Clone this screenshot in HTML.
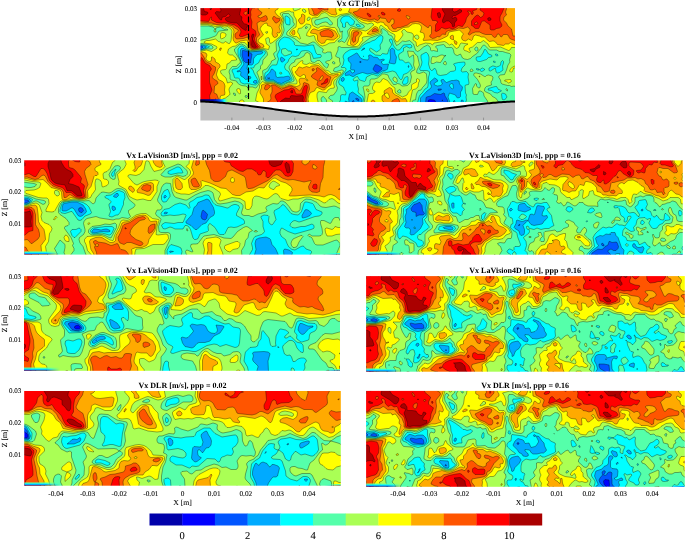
<!DOCTYPE html>
<html><head><meta charset="utf-8"><title>Vx comparison</title>
<style>html,body{margin:0;padding:0;background:#fff;width:685px;height:540px;overflow:hidden}
svg{display:block}</style></head><body>
<svg width="685" height="540" viewBox="0 0 685 540" font-family="'Liberation Serif','Times New Roman',serif" fill="#000" text-rendering="geometricPrecision">
<mask id="cGT" maskUnits="userSpaceOnUse" x="0" y="0" width="685" height="540"><rect x="200.4" y="8.1" width="314.6" height="94.1" fill="#fff"/></mask>
<g mask="url(#cGT)">
<rect x="200.4" y="8.1" width="314.6" height="94.1" fill="#0000FF"/>
<g transform="scale(0.5)" stroke="#000" stroke-width="1" stroke-opacity=".7" fill-rule="evenodd">
<path fill="#0055FF" d="M397 12l636 0 0 196-165 0 3-6-3-2-7-1-4 1-2 8-458 0 0-111 3-1-3 0z"/>
<path fill="#00AAFF" d="M397 12l636 0 0 196-136 0-3-10-4-6-1-5-2-1-6 3-12-2-8 5-8 2-1 2-1 12-133 0-1-3-2 3-8 0 1-6-1-1-2 1-1 6-307 0 0-109 4-1 5-4-3-2-6 1zM485 101l-1 9 3 11 4 4 10 1 3-18-12-6-5-1zM535 156l2 1 3-1zM713 196l-2 2 6 4 1-2-1-2zM721 122l-2 2 2 2 1-2zM751 129l-2 3-3 6 1 2 4 4 4 1 2-1 7-6-1-3-8-5zM877 178l-1 0 0 2 1 1 5-1 1-2zM884 200l1 0 0 2z"/>
<path fill="#00FFFF" d="M397 12l636 0 0 196-132 0-5-14 3-8 12 4 2 4 2 2 4-1 2-2 0-9 3-4 1-6-6-6-1-6-5-2-6 1-4 0-10 4-2-1-4-5-2 0-3 1 0 2 3 6-4 3-6 1-6-2-1-2 1-2 7-4-3-4-4-2-8 7-1 3 3 6-1 4-8 6-13 14 0 8 2 4-121 0 2-8-2-4-17-12-4 2-2 2-2 10 1 4-1 3-6-3-3 6-291 0 0-108 6-1 10-5-2-2-6-1-8 0zM483 97l-2 3-1 10 8 18-9 13-5 1 1 2 4-1 2 0 1 1-1 6 1 2 5 3 4 4 10-2 1-3-5-2-2-2 0-2 4-4-1-2-4-4 1-8 8 0 2-1 2-3 0-8 2-4 6-5 8-1 2-2 1-2-7-2-18 2-14-7zM543 138l-4 8-4 3-4 5 0 4 2 2 14 0 8 5 8 2 8-4 8-3 2-2-2-4-2-2-10 2-4 0-8 1-2-1-1-2-1-8-6-6zM563 114l-2 2 0 4 2 4 2 0 5-4-1-2zM593 98l0 2 2-1 0-1zM685 155l-3 3 1 4 2 1 2-1 2-4-2-3zM713 106l-17 10 1 6 4 4 1 2-1 10 2 2 6 0 0 4-4 2-3-2-1-3-2 0-8 5-1 4 1 1 8-1 6 3 2 0 6-4 12-4 10 3 10-2 10 2 10-6 8-2 2-2 2-10-10 1-4-3 0-3 6-3-2-2-8 2-4-5-8-1-6-4-3 0-1 2 1 4-2 4-9-1-6-3-6-9zM727 96l-4 5 6-3 0-2zM783 97l-3 3 1 16-3 10 11 2 2-2 2-12-3-6-1-8-2-2-2-2zM817 131l-1 1 1 3 1-1zM907 202l0 3 2 1 1-4-1-1zM923 200l-1 4 1 2 2 0 2-4-2-2zM509 161l-3 3 2 2 3 1 2-1 1-2-1-3zM901 168l2-1 3 1 1 8-2 2-2-1-4-5 0-2z"/>
<path fill="#55FFAA" d="M397 12l636 0 0 196-103 0 3-8-1-6 1-4-2-4-1-14 1-2 6-1 1-3-2-12 1-6-1-2-3-3-8 1-3-2 2-6 6-6 0-4-1-2-12 1-8 2-2 1 4 6 0 6-2 2-8 1-8 6-12 2-4-1-3-2-1-6-2-4-2-2-3 4-3 1-3-3-3-10 1-8 0-6-2-6-3-3-2 0-9 5 0 6 2 8-1 6-4 8 2 3 12 0 4 1 2 2 0 4-2 6-1 18-1 3-5 3-5 7-5 5-2 4-2 8-2 6-109 0 2-10-1-4-1-2-6-4-3-4 1-6-2-8 1-8-1-2-6 2-3-2 1-2 4-4 4-1 4 7 10 3 2-2 2-7 10-5 4 0 8 3 12-8 6 1 12-3 6 2 8 13 2 2 2 0 2-3 2-7 8-3 10-10-4-8-4-4-6 2-6-6-6 0-2-8 1-4 7-4 2-2 0-6 2-1 4-2 6 3 4-1 1-3-3-3-14 1-8 10-4 0-4-3-5-7-1-8-2-4-2 0-2 1 0 3 4 6 0 2-5 8-3 10-4 0-6-1-4 4-10-1-11-8-1-4 2-2 12 8 4-2 4-4-1-8 4-6 2-8-1-4-2-1-4 1-3 2-6 6-7 2-2 2-7 2-7 4-8 8-6 1-10 0-4 1-8 5-4 5-1 4 2 6-2 10-4 4 1 1 6 0 2 1 1 2 0 2-7 10-5 6-3 8 2 5 8 5 2 6 3 4 0 2-1 4-6-1-3 1-1 2 0 8-4 8-280 0 0-107 6-1 16-6-2-2-4-1-8-2-8 0zM481 92l-5 6 0 10 1 4 6 12 0 4-7 8-3 1-6 1-2 1-1 3 3 6 2 7 2 1 6 0 2 2 2 6 2 2 6 2 8-1 6 2 8 1 5-4 1-4-9-16-2-6-5-4 6 0 3-6 7-4 4-8 9-10 1-4-2-2-4-1-24 2-16-11zM565 76l-5 4-3 6 0 4 3 8-6 12 3 8-3 10-1 2-8 0-5 4-4 8-6 4-1 8 0 4 2 3 4 1 12 0 8 5 8 2 18-7 3-2 0-2-7-15-6-4-2-5 2-6 5-4 2-6 5-5 2-1 6 1 6-2 6-9 8-1 6 1 6 4 4 11 14-2 2-3-2-3-6 0-3-3-5-16-4 0-14 2-18-1-3-3 1-2-1-2-5-4-4-4-10-2zM573 32l-2 0-1 2 1 12 2 3 6 1 1-2 0-10-3-4zM691 32l-6 2-3 4-1 4 4 6 0 6 4 1 2-1 0-8 2-2 2 0 4 6 2 1 4-1 3-2 1-6-9-8-3-2zM713 48l-1 2 3 3 4 1 2-2-4-3zM969 99l-3 7-5 7-8 1-1 4 2 4 3 1 4 0 12-4 4-4 6-1 1-2-1-2-6-2-5-8-1-1zM989 122l-2 0 0 2 2 2 2-2zM991 108l0 2 2 2 2 0 1-2-2-2zM1005 121l-3 3-1 6-2 2-6 2-6-2-2 0-7 4 0 4 1 2 2 0 8-5 2 0 1 7 3 2 4-1 6-4 1-1-1-8 2-6 0-3zM811 154l-2 2-4 8 0 2 2 3 6-1 3-4 0-10-1-1zM953 137l-1 1 2 2 4 0 0-2zM965 136l-4 2-2 2 4 3 3-1 3-2 0-2zM987 174l-10 3-1 3 7 1 6 4 6 1 8-4-2-2-4-1-4-6-2 0zM1005 186l-2 2 1 8 1 3 4 1 5-6-3-6zM564 98l7-1 6 5 4 0 2 2 0 3-2 1-8 3-4 1-6-6 0-6zM726 112l1 0 0 1zM561 144l2 1 1 1-1 2-3 0-1-2zM914 208l1-2 1 2z"/>
<path fill="#AAFF55" d="M397 12l636 0 0 165-4-5-6 1-4-2-4 0-11-3-2-2-1-6-4-6 1-2 3-2 8-1 4-9 3-10 4-6-1-4 3-10-3-3-8-2-6-2-6 0-6-3-14 0-10-10-2 0-2 2-4 6-4 4-2 4-10 7-4 4-6 2-6-1-4-2-4-8-6 3-4-1-3-4-1-6-2-4-2-1-10 0-2-1-2-4-2-1-12 2-3 1-1 2 4 4 0 5-8-2-4 1-2-2 0-4-2-3-4-3-8 4-8 7-4 2-2-1-2-2-4-12-8-7-8 2-6-1-8 7-4 2-9-19-7-3-2-5-2-2-8-5-2 1 1 8-1 2-23 8-16 12-4 6-3 2-4 0-14-1-16 0-4-2-3 1 0 6-5 12 2 2 6 2 0 6 2 6-4 5-8 3-1 2-1 4 2 1 4 0 10-3 2 0 2 2-3 6-9 10-2 4-1 6 3 8-2 6-6 8-6 1-3 3-1 2 2 2 4 2 2 2 0 3-3 3-9 0 0-8-6-7-3 1-2 4 1 4 3 6-176 0-3-1-3 1-67 0 0-106 16-4 10 0 3-2 0-2-3-3-6-2-12-2-8 0 0-5 6-2 14-3 14-5 2-2 3-6 3-2 17-2-1-1-2-1-4 1-8-5-6 1-3 1-1 2-2-1-3-3-9-2-20 0zM483 88l-4 1-10 9 0 4 10 17 2 5-1 2-3 2-4 5-8 0-2 2-4 5-1 4 2 6 0 8 3 2 10 2 2 4 4 3 4 2 8 1 4 2 0 2 3-2 7 0 6 2 2-1 6-9 1-4-4-12-2-4 0-2 7-6 0-6 4-4 1-8 9-10-1-6-3-4-4-1-26 2-5-3-5-6zM567 27l-2 1 0 2 3 10-2 10 2 8 0 4-4 10-9 8-3 4 1 18-2 2-3 2-1 2 4 10-8 4-1 4-9 12-6 2-2 2 2 16 2 4 6 2 12 0 16 7 4-1 8-4 9-2 4-2 0-4-10-22 1-4 4-5 6-3 1-4 3-2 6-1 9-5 3-6 4-1 5 3 2 14 2 2 5 1 6-4 4 0 5 5 4 6 5 4 2-1 2-5 0-2-5-2-1-2 2-2 6-1 4-3 1-2-2-12-7 0-4 2-4 0-2-2 0-2 2-2-1-2-9-6-8-8-4 0-10 5-14-3-12-9-15-7-1-2 1-4 9-9 4-3 2-4-3-4 0-6-1-2-8-9zM611 54l0 3 2 0 2-3-2-1zM647 36l-6 2-10 2-2 4 2 5 4 1 10-5 6-1 4 1 2 3 3 2 3 0 2-2 0-2-10-11-4 0zM667 123l-2 1 0 2 2 2 2 0 1-2-1-2zM689 30l-8 2-6 6 0 14 4 6 1 6 3 0 1-2 1 0-1 4 0 10-1 2-7 4 1 2 2 0 4-2 6 3 2-2 6-11-2-10 6-7 6-2 10 4 4 0 5-1 3-2-2-4-8-4-5-6-13-10-4-1zM953 94l-2 1-2 3 2 3 2 1 3-2 0-2-1-3zM469 186l-2 0 0 2 2 3 2 0 0-3zM491 191l-1 3 3 1 1-1 1-2-2-1zM428 60l1-1 2-1 1 6-3 0-1-2zM815 102l12 1 3 5 5 4 4 18-5 10-1 4 1 2 5 1 8-3 4 2 2 2 0 2 1 10-1 6-5 6-3 3-3 5-5 1-2 3-2 4-2 12-4 0-2 2-2 6-95 0 2-14-2-12-2-8 3-2 8 0 3-4 0-8 3-2 6 0 6-2 10-8 4 0 7 2 2 6 9 13 4 0 4-2 4 1 5 4 3 0 8-1 5-5 3-12-2-8 3-4 5-2 1-2-3-8 1-8-1-12-2 0-4 4-2 1-2-3zM797 180l-2 2 0 2 3 2 3 0 1-2-1-4-2-1zM882 110l4 0 3 2 2-2 0 2-2 0-2 4-6 9-2 0-6-1-6 3-4 0-1-3 1-8 2-3 8 1zM890 122l2 2 1 4-2 2-4-2 0-2zM940 140l3-2 2 1 1 1 0 2-3 1-2 0zM949 146l4 0 8 2 8 5 2 0 2-2 4-1 7 2 2 2-1 6-3 4 1 6-10 3-3 3-1 4 0 2 3 2 9 4 4 5 6 3 5 6 1 6-21 0-1-6-7-10-1-6-2-2-4-2-3 0-3 7-6 0-3-1-1-11 3-5 2-4 1-1 2 1 0 4 4 4 2 0 2-4-1-4-5-9-8-9zM786 156l3-2 4 2 2 6-2 3-4-2-3-3zM1012 178l1-1 2 2 0 3-3-2zM1032 190l1-1 0 7-2-2zM1027 208l2-1 4 0 0 1z"/>
<path fill="#FFFF00" d="M397 12l188 0 2 8 2 2 11-4 1-2-1-4 433 0 0 83-10 0-3 5-3 1-16-7-20 1-2-1-3-6-9-7-6 4-6 0-10 9-6 2-1 2 3 6-2 1-6-3-4-1-2-3 2-6 7-4-13-2-2 1-4 8-4 2-2-1-6-7-2-1-4 2-6-5-4-2-21 3-3 4-4-3-10-1-12 4-4 3-2-1-1-8-6-4 1-10-3-4-10-2-5-5-2 0-3 3-1 2 2 2 1 4-4 6-5 6-2 2-2 0-4-6 1-6-1-3-8-4-18-14-2 0-2 3 2 10-1 2-19 6-15 2-2 2 2 4-5 6-4 6-4 1-8 0-10-3-1-2 6-14-1-10 3-6 3-1 4 0 22 5 6-3 8-7 2-2 0-2-4-2-8 2-12-4-20-16-4-2-18 3-8 4-4 1-10-2-6-6-4-1-6 2-6 7-2 1-11 1-1 6 2 8 2 2 8 4 2 0 4-3 8-1 14 3 6 0 4 3 3 8 4 6-1 3-6 5-4 5-10 1-7 4-7 2-6-2-5-6-3-4-2-8-2-1-8 2-6-2 1-5 8-12-1-4-2-1-6-1-10 8-6 1-2 7 3 4 3 9-2 1-6-5-6 0-6-3-2-4 4-6 2-2 7-4 1-10-1-6-4-6-1-8-4 0-4-2-4 0-12 3-2 1-1 2 5 8 1 4-4 12 2 8 0 4-3 8-16 13-4 2-2-3 0-6-2-3-4 1-2 2 2 10 6 4-1 4-1 3-10-2-18 3-8 0-4-4-2-6-2-2-4-3-4 0-4 0-10 7-6 1-8 5-2 8 4 4 6 0 7 6 1 2 0 2-10 1-4 5-5 2-1 9-2 2-8 1-2 2 0 2 2 4 9 8 3 10 6-2 4 2 0 2-5 6-2 4 0 2 2 8-1 2-8 6-6 2-2 6-3 4-43 0 0-105 8-1 8-2 10 3 10-6 1-3-1-1-10-5-14-2-1-2 5-3 6 0 12-3 6 5 4 1 2 2 4 0 4-3 6 4 2 0 3-5 2-20-2-4-7-5-6 1-8-2-10 1-16-4-18 0zM531 64l2 3 2-1 0-3zM607 18l-2 1 0 3 4 3 3-1-1-4zM617 34l-3 4 1 3 2 0 2-1 2-4-2-2zM833 70l-4 2 0 2 2 3 4 2 3-3-1-4-2-2zM442 66l3-1 4 1 3 2 0 2-1 3-2 2-6 3-2-2 0-8zM602 122l3-1 1 1-1 4 2 2 6 1 6-3 10 3 8-2 14 13 6 2 6 5 4 0 12-2 2 0 1 1-2 4-9 8-3 4-1 4 2 8-1 2-7 1-5 3-3 5-2 0-12-2-3 1-2 4 0 6 3 14-11 0-1-3-2 3-101 0-2-2-9-5 3-15 5-10 0-6 6-7 4 2 18 1 16 7 5-1 11-4 14 0 1-2 0-4-8-14-3-10 2-3 2-2 4 0 8-9zM1030 132l3-1 0 6-4-1-2 0-2 7-2 1-2 0-2-2 2-4 4-4zM958 152l1 0 1 2-1 0zM522 154l1-2 1 6-1 2zM1033 154l0 4-1-2zM765 158l2-1 8 4 8 10 7 5 0 6 1 4 14 8 9-4 3-6 6-6 0-8 2-2 8-4 0-6 2-1 2 1 2 2 0 2-2 4-1 8-5 4-4 1-2 1-6 28-86 0 4-20 2-1 6 0 5-3 0-2-3-1-2-3 0-4 4-8 4-2 6 1 2-1zM1010 160l11-1 2 3-1 2-5 2-4-3-4-1zM474 178l3-1 3 1 1 4 0 5-2 1-4-4-2-4zM733 178l2 0 2 1 1 3-1 2-3-2zM482 200l3 0 3 2 0 2-1 4-7 0-1-4 0-2z"/>
<path fill="#FFAA00" d="M397 12l138 0 2 5 2 0 2-3 0-2 17 0-2 6-5 3-1 3 4 6 7 5 2 3 0 4-5 12 3 8-1 2-1 2-2 0-2-1-1 1 0 2 2 2-3 4-4 1-2-1-3-6 1-8-2-5-2-2-6-2-1-5-5 1-6 5-3 6 7 12-9 8-2 4 3 4 6 2 2 2 1 4-12 4-13 1-4-3-4-14-2-2-12 2-8 4-2 0-4-5-1-5 2-14-1-2-2-4-7-4-5-1-6 0-14-1-20-3-16 0zM616 12l55 0 1 12 2 4-3 2-8-1-10-6-4-1-6 2-8 7-4 1-6-1-6-3zM700 12l11 0 2 1 1-1 319 0 0 6-3 2 3 1 0 69-7-2-5-3-4 3-6 0-4 3-12-2-4-5-3-2-3 0-6 1-2-1-8-8-6 0-4-2-8-2-4 2-2 7-2 2-6-3-6 4-4-1-2-1-2-4 1-4 3-4-8-8-21 4-1 2-1 4-1 2-8 4-4 2-8 3-14-1-14 1-1-1 3-6-1-6-1-2-7-2 2-4 1-6-2-4-3-2-7-1-6 1-8 6-10 1-14 8-8 0-7-5-3-6-5-2-3-5-6-1-6 2-8-4-8 1-12-2-14-7-10-8-6-2 3-8zM678 18l3-1 2 1 0 2-2 2-2-1-1-1zM603 30l0-1 2-1 4 2 1 2-1 12-4 4-4 0-4-6 0-2 1-2 5-4zM748 54l3-1 4 2 3 7 0 2-17 5-6-1 0-2zM626 58l3 0 8 3 12-4 10 0 11 5 6 10-1 2-8 6-6 0-6-1-3 1-3 6-6 1-7-5-1-4 0-6-2-4-12-2 1-4zM706 60l5 0 9 2 3 2 1 2-1 2-5 6-2 10-5 5-4 2-4-1-2-2 0-2 2-22zM585 62l2-2 2 1 1 5-1 3-2 1-3-2-1-2zM901 72l2-1 2-1 2 2 0 8-5-2-2-2zM908 82l1-1 2 1 3 2 0 2-1 3-3-1zM440 96l3 0-2 5-2-1zM397 104l6 0 9 2 2 4-2 6 0 2 3 4 4 1 3-1 1-2 0-6 2 0 5 4 1 6 6 3 3 3 0 4-4 4-3 10 0 2 4 9 8 4 3 3 2 6-1 8 1 6-1 4-6 1-2 1-2 10-4 6-38 0zM623 132l14-1 22 18 8 1 8-2 1 0 1 2-2 2-6 3-4 5-2 4-1 6-7 4-6 6-4 0-10-5-3 1-3 6-8 3-3 5-2 8 2 10-91 0 0-10-3-6-4-6 0-4 3-6 0-6 8-3 12 0 6 1 14 7 6-1 10-4 14 3 3-1 4-2 0-2-2-6 1-4 2-2 8 1 2-1 0-4-1-2-3-1-6 4-2 0-5-3-4-6 1-1 2-1 4-7 2-1 6 2 8-3 6 2zM613 158l-1 0 0 2 3 2 1-2zM777 176l2-1 4 2 2 3 0 4 1 2 5 4 8 4 4 4 8-1 3 5 0 2-2 4-40 0-5-4-3-4 0-8 5-4-1-4 1-3zM773 186l-4 2 0 2 5 6 3 1 1-1 1-2-2-6-2-2zM745 200l2 0 2 2 3 6-11 0 2-6z"/>
<path fill="#FF5500" d="M397 12l121 0-2 6 1 2 6 4 1 2-3 4-5 2 0 2 5 2 10-5 2 1 2 6-1 2-3 2-4 1-6-1-7 4 2 16 3 6 0 2-6 6 0 6 1 4 6 6 1 2-2 2-8 2-6 0-4-2-1-2-3-17-2-3-8 3-14 1-3-4 0-6 7-6-2-3-4-2-6-5-12-4-20 1-10-3-26-2zM624 12l32 0 0 8-9-1-4 2-8 7-4 1-2 0-2-1 1-2-5-10zM722 14l1-2 290 0 0 6-2 6 2 6-5 4-1 6 6 6 3 6 7 6 3 14 3 0 4-2 0 12-12-4-2-2-3-6-3-1-6 0-4 5-2-1-3-5-3 0-3 6-3 1-2-1-4-5-12 0-6-2-6-3-8 0-6 2-6 4-3-2 4-6 0-4-5-4-8 3-10-1-6 3-14 2-5 3-1 5-6-1-6 6-4-1-5 3-5 1-5-3-1-2 4-5 0-3 0-10-2-3-2 0-2 4-2 0-14-10-6-2-2 0-12 2-6 5-14 5-6 0-4 3-4 0-4-6 0-2 4-2 1-2 0-6-1-2-4 0-4 7-2 0-2-1-3-6-1-1-10-1-2-5-2 0-1 1 1 2 3 2-1 1 0 1-4 3-6-3-10 2-6-2-6-1-13-5-7-6 0-2 8-2zM813 31l-1 1 3 5 2 1 2-1 1-3-1-1zM1020 12l8 0-3 3-3-1zM546 34l1-1 2 0 4 3 6 1 1 3-1 2-6 4-2 0-6-8zM747 58l4-1 2 1 2 2 0 2-10 2-1-2zM650 60l7-1 6 3 3 4 1 6-4 3-10-2-8 0-2 0-3-5 0-2 1-2zM708 64l5-1 4 1 1 2-1 2-6 6 0 8-2 2-2 1-2-3-1-4 2-4 0-6zM397 106l2 0 4 1 5 7 2 6 3 4 8 3 4 4 6 3 0 6-3 8-4 6 3 4 7 4 2 4-1 2-6 4 0 2-1 12 5 2 1 2 3 8-1 4-4 4-1 2-34 0zM633 136l2-1 2 1 6 4 11 10 8 4-4 12-9 10-4-1-8-3-3-2 0-2 2-6-9-5-4-3 0-2 1-2 10-8-2-4zM643 152l-4 6-1 2 1 2 4-2 3-4 0-4-1-1zM624 138l3-1 2 1-2 4-2 0zM607 166l2-1 8 3 1 2 1 8-4 12-2 8 2 10-83 0 1-3 6-3 3-4-1-8 3-6 0-8-1-6 6 0 14 8 16-6 4 0 9 4 7 6 2-2 5-8zM531 170l4-1 4 1 2 2-1 2-5 5-4 1-2-2 0-2zM791 198l4-1 2 1 2 4 1 6-19 0 4-7z"/>
<path fill="#FF0000" d="M397 12l115 0-2 4-5 0-2 2-2 6 1 6-1 4 3 10-1 8 0 4 2 2 4 2 2 2 1 4 0 4-3 6 1 6 7 12-3 2-5 1-6-2-2-5-2-18-4-3-10 4-4 0-2-1 0-2 3-6-1-4-4-5-8-5-20-5-6 1-10-1-10-5 0-6-2 1-2 5-2 3-13-1-7-2zM489 24l-2 2 1 2 3 2 2 0 1-2 1-4-2-2zM634 12l15 0-1 4-3 0-2 2-4 0-4-2zM729 12l7 0-1 4-2 1-2-1zM831 12l6 0-4 1-2 0zM866 14l3-2 87 0-3 7-8 3 2 4-2 3-3-1 0-4-4-2-3 0 4 6-6 8-2 8-6 9-2 0-6-2-7 5-5 2-6-2-8 2-8-3-4 5-6 3-3-1 1-4 0-8 2-3 3-3-5-3-6 0-3-7 2-16zM964 12l44 0 0 4-4 10-3 5-1 3 0 8 4 8-1 3-4 3-6 1-5 3-6 0-2-2 0-6 0-2-11-8-4 0-2 2-4 10-2 3-6 0-2-1-2-3-4-2 0-9 8-10 4-2 2 1 4 4 4-2 2-3 1-4-1-1-7-5 0-2zM953 44l-4 2 0 3 2 0 4-1 1-2zM796 18l3-1 2 2 0 3-2 1-4-1 0-2zM764 24l5 2 1 2 0 2-5 0-3-4zM735 26l6 4 1 2-1 2-2 0-2-2-3-4zM402 116l1-1 2 2 5 9 9 5 4 7-4 6 0 6 0 14 5 16-5 12 1 6-6 6 0 4-9 0 0-2-4-4-1-8-3-3 0-66 4-3zM652 158l3-1 1 1-1 6-2 2-10 3-1-1 5-2zM609 172l2-1 2-1 2 4-5 26 2 8-57 0 0-5-5-9 1-4 2-2 16-8 8-1 6-3 5 2 4 10 9 0 3-2 2-8zM430 198l2 0-1 2zM547 204l2 2 0 2-4 0 0-2z"/>
<path fill="#AA0000" d="M397 12l5 0 4 2 3 9 6 1 1 2-1 2-4 2-6 0-8-4zM438 12l43 0 0 8-2 10 5 4-1 6 4 6 2 2 4 0 2 2 0 2-3 6 1 2-2 1-8-5-9-10-7 0-10-2-4-2-3-4 1-1 2-2 5-1 2-2 0-2-3-2-2 1-4 4-6 1-1 2-1 4-2 0-2-2-9-12 3-3 8 1 1-4zM486 12l3 0-2 1zM884 12l29 0-8 5 0 4 2 2 2 1 4-1 6-4 4 1 0 4-12 7-4 0-3 3 1 3 6-3 2 2 1 4-5 6 0 6-2 2-2-1-1-5-6-6-5 0-6 4-2-2 0-4 5-12-5-8zM420 16l1-1 2 1 0 2-2 2zM875 26l4-1 2 3 0 6-2 2-2-1-2-5zM976 36l3-1 2 1 1 2 0 2-3 1-2 0-2-3zM505 68l2 0 1 2-3 8 7 14 1 2-2 1-6-1-2-4 1-12-1-6zM582 182l1-1 2 0 0 5-2 0-2-2zM581 192l2-1 10 1 12-1 2 3-1 6 2 8-48 0 0-4 3-3 8-5 8 1 1-1z"/>
</g>
</g>
<defs><linearGradient id="nw" x1="0" x2="1" y1="0" y2="0"><stop offset="0" stop-color="#00006A"/><stop offset=".45" stop-color="#0000AA"/><stop offset=".7" stop-color="#0055FF"/><stop offset=".85" stop-color="#00FFFF"/><stop offset="1" stop-color="#55FFAA" stop-opacity="0"/></linearGradient></defs>
<rect x="200.4" y="99.2" width="28" height="3.0" fill="url(#nw)"/>
<polygon fill="#fff" points="200.4,102.2 200.4,101.40 202.4,101.48 204.4,101.58 206.3,101.68 208.3,101.79 210.3,101.91 212.3,102.04 214.3,102.17 216.2,102.32 218.2,102.47 220.2,102.64 222.2,102.81 224.1,102.99 226.1,103.17 228.1,103.36 230.1,103.56 232.1,103.77 234.0,103.98 236.0,104.20 238.0,104.43 240.0,104.66 242.0,104.89 243.9,105.14 245.9,105.38 247.9,105.63 249.9,105.89 251.8,106.14 253.8,106.41 255.8,106.67 257.8,106.94 259.8,107.21 261.7,107.48 263.7,107.75 265.7,108.03 267.7,108.30 269.7,108.58 271.6,108.86 273.6,109.13 275.6,109.41 277.6,109.69 279.5,109.96 281.5,110.23 283.5,110.50 285.5,110.77 287.5,111.04 289.4,111.30 291.4,111.56 293.4,111.82 295.4,112.07 297.4,112.32 299.3,112.56 301.3,112.80 303.3,113.04 305.3,113.26 307.2,113.49 309.2,113.70 311.2,113.91 313.2,114.12 315.2,114.31 317.1,114.50 319.1,114.69 321.1,114.86 323.1,115.03 325.1,115.19 327.0,115.34 329.0,115.48 331.0,115.61 333.0,115.74 334.9,115.85 336.9,115.96 338.9,116.06 340.9,116.14 342.9,116.22 344.8,116.29 346.8,116.35 348.8,116.40 350.8,116.44 352.8,116.47 354.7,116.49 356.7,116.50 358.7,116.50 360.7,116.49 362.6,116.47 364.6,116.44 366.6,116.40 368.6,116.35 370.6,116.29 372.5,116.22 374.5,116.14 376.5,116.06 378.5,115.96 380.5,115.85 382.4,115.74 384.4,115.61 386.4,115.48 388.4,115.34 390.3,115.19 392.3,115.03 394.3,114.86 396.3,114.69 398.3,114.50 400.2,114.31 402.2,114.12 404.2,113.91 406.2,113.70 408.2,113.49 410.1,113.26 412.1,113.04 414.1,112.80 416.1,112.56 418.0,112.32 420.0,112.07 422.0,111.82 424.0,111.56 426.0,111.30 427.9,111.04 429.9,110.77 431.9,110.50 433.9,110.23 435.9,109.96 437.8,109.69 439.8,109.41 441.8,109.13 443.8,108.86 445.7,108.58 447.7,108.30 449.7,108.03 451.7,107.75 453.7,107.48 455.6,107.21 457.6,106.94 459.6,106.67 461.6,106.41 463.6,106.14 465.5,105.89 467.5,105.63 469.5,105.38 471.5,105.14 473.4,104.89 475.4,104.66 477.4,104.43 479.4,104.20 481.4,103.98 483.3,103.77 485.3,103.56 487.3,103.36 489.3,103.17 491.3,102.99 493.2,102.81 495.2,102.64 497.2,102.47 499.2,102.32 501.1,102.17 503.1,102.04 505.1,101.91 507.1,101.79 509.1,101.68 511.0,101.58 513.0,101.48 515.0,101.40 515.0,102.2"/>
<polygon fill="#BFBFBF" points="200.4,101.40 202.4,101.48 204.4,101.58 206.3,101.68 208.3,101.79 210.3,101.91 212.3,102.04 214.3,102.17 216.2,102.32 218.2,102.47 220.2,102.64 222.2,102.81 224.1,102.99 226.1,103.17 228.1,103.36 230.1,103.56 232.1,103.77 234.0,103.98 236.0,104.20 238.0,104.43 240.0,104.66 242.0,104.89 243.9,105.14 245.9,105.38 247.9,105.63 249.9,105.89 251.8,106.14 253.8,106.41 255.8,106.67 257.8,106.94 259.8,107.21 261.7,107.48 263.7,107.75 265.7,108.03 267.7,108.30 269.7,108.58 271.6,108.86 273.6,109.13 275.6,109.41 277.6,109.69 279.5,109.96 281.5,110.23 283.5,110.50 285.5,110.77 287.5,111.04 289.4,111.30 291.4,111.56 293.4,111.82 295.4,112.07 297.4,112.32 299.3,112.56 301.3,112.80 303.3,113.04 305.3,113.26 307.2,113.49 309.2,113.70 311.2,113.91 313.2,114.12 315.2,114.31 317.1,114.50 319.1,114.69 321.1,114.86 323.1,115.03 325.1,115.19 327.0,115.34 329.0,115.48 331.0,115.61 333.0,115.74 334.9,115.85 336.9,115.96 338.9,116.06 340.9,116.14 342.9,116.22 344.8,116.29 346.8,116.35 348.8,116.40 350.8,116.44 352.8,116.47 354.7,116.49 356.7,116.50 358.7,116.50 360.7,116.49 362.6,116.47 364.6,116.44 366.6,116.40 368.6,116.35 370.6,116.29 372.5,116.22 374.5,116.14 376.5,116.06 378.5,115.96 380.5,115.85 382.4,115.74 384.4,115.61 386.4,115.48 388.4,115.34 390.3,115.19 392.3,115.03 394.3,114.86 396.3,114.69 398.3,114.50 400.2,114.31 402.2,114.12 404.2,113.91 406.2,113.70 408.2,113.49 410.1,113.26 412.1,113.04 414.1,112.80 416.1,112.56 418.0,112.32 420.0,112.07 422.0,111.82 424.0,111.56 426.0,111.30 427.9,111.04 429.9,110.77 431.9,110.50 433.9,110.23 435.9,109.96 437.8,109.69 439.8,109.41 441.8,109.13 443.8,108.86 445.7,108.58 447.7,108.30 449.7,108.03 451.7,107.75 453.7,107.48 455.6,107.21 457.6,106.94 459.6,106.67 461.6,106.41 463.6,106.14 465.5,105.89 467.5,105.63 469.5,105.38 471.5,105.14 473.4,104.89 475.4,104.66 477.4,104.43 479.4,104.20 481.4,103.98 483.3,103.77 485.3,103.56 487.3,103.36 489.3,103.17 491.3,102.99 493.2,102.81 495.2,102.64 497.2,102.47 499.2,102.32 501.1,102.17 503.1,102.04 505.1,101.91 507.1,101.79 509.1,101.68 511.0,101.58 513.0,101.48 515.0,101.40 515.0,120.4 200.4,120.4"/>
<polyline fill="none" stroke="#000" stroke-width="2" points="200.4,101.40 202.4,101.48 204.4,101.58 206.3,101.68 208.3,101.79 210.3,101.91 212.3,102.04 214.3,102.17 216.2,102.32 218.2,102.47 220.2,102.64 222.2,102.81 224.1,102.99 226.1,103.17 228.1,103.36 230.1,103.56 232.1,103.77 234.0,103.98 236.0,104.20 238.0,104.43 240.0,104.66 242.0,104.89 243.9,105.14 245.9,105.38 247.9,105.63 249.9,105.89 251.8,106.14 253.8,106.41 255.8,106.67 257.8,106.94 259.8,107.21 261.7,107.48 263.7,107.75 265.7,108.03 267.7,108.30 269.7,108.58 271.6,108.86 273.6,109.13 275.6,109.41 277.6,109.69 279.5,109.96 281.5,110.23 283.5,110.50 285.5,110.77 287.5,111.04 289.4,111.30 291.4,111.56 293.4,111.82 295.4,112.07 297.4,112.32 299.3,112.56 301.3,112.80 303.3,113.04 305.3,113.26 307.2,113.49 309.2,113.70 311.2,113.91 313.2,114.12 315.2,114.31 317.1,114.50 319.1,114.69 321.1,114.86 323.1,115.03 325.1,115.19 327.0,115.34 329.0,115.48 331.0,115.61 333.0,115.74 334.9,115.85 336.9,115.96 338.9,116.06 340.9,116.14 342.9,116.22 344.8,116.29 346.8,116.35 348.8,116.40 350.8,116.44 352.8,116.47 354.7,116.49 356.7,116.50 358.7,116.50 360.7,116.49 362.6,116.47 364.6,116.44 366.6,116.40 368.6,116.35 370.6,116.29 372.5,116.22 374.5,116.14 376.5,116.06 378.5,115.96 380.5,115.85 382.4,115.74 384.4,115.61 386.4,115.48 388.4,115.34 390.3,115.19 392.3,115.03 394.3,114.86 396.3,114.69 398.3,114.50 400.2,114.31 402.2,114.12 404.2,113.91 406.2,113.70 408.2,113.49 410.1,113.26 412.1,113.04 414.1,112.80 416.1,112.56 418.0,112.32 420.0,112.07 422.0,111.82 424.0,111.56 426.0,111.30 427.9,111.04 429.9,110.77 431.9,110.50 433.9,110.23 435.9,109.96 437.8,109.69 439.8,109.41 441.8,109.13 443.8,108.86 445.7,108.58 447.7,108.30 449.7,108.03 451.7,107.75 453.7,107.48 455.6,107.21 457.6,106.94 459.6,106.67 461.6,106.41 463.6,106.14 465.5,105.89 467.5,105.63 469.5,105.38 471.5,105.14 473.4,104.89 475.4,104.66 477.4,104.43 479.4,104.20 481.4,103.98 483.3,103.77 485.3,103.56 487.3,103.36 489.3,103.17 491.3,102.99 493.2,102.81 495.2,102.64 497.2,102.47 499.2,102.32 501.1,102.17 503.1,102.04 505.1,101.91 507.1,101.79 509.1,101.68 511.0,101.58 513.0,101.48 515.0,101.40"/>
<line x1="248.5" y1="8.1" x2="248.5" y2="101.6" stroke="#000" stroke-width="1.2" stroke-dasharray="6 2.5"/>
<line x1="231.86" y1="117.6" x2="231.86" y2="120.4" stroke="#777" stroke-width=".6"/>
<line x1="263.32" y1="117.6" x2="263.32" y2="120.4" stroke="#777" stroke-width=".6"/>
<line x1="294.78" y1="117.6" x2="294.78" y2="120.4" stroke="#777" stroke-width=".6"/>
<line x1="326.24" y1="117.6" x2="326.24" y2="120.4" stroke="#777" stroke-width=".6"/>
<line x1="357.70" y1="117.6" x2="357.70" y2="120.4" stroke="#777" stroke-width=".6"/>
<line x1="389.16" y1="117.6" x2="389.16" y2="120.4" stroke="#777" stroke-width=".6"/>
<line x1="420.62" y1="117.6" x2="420.62" y2="120.4" stroke="#777" stroke-width=".6"/>
<line x1="452.08" y1="117.6" x2="452.08" y2="120.4" stroke="#777" stroke-width=".6"/>
<line x1="483.54" y1="117.6" x2="483.54" y2="120.4" stroke="#777" stroke-width=".6"/>
<text x="357.70" y="5.80" font-size="8.00" text-anchor="middle" font-weight="bold">Vx GT [m/s]</text>
<text x="197.00" y="10.50" font-size="7.00" text-anchor="end" stroke="#000" stroke-width="0.07">0.03</text>
<text x="197.00" y="41.87" font-size="7.00" text-anchor="end" stroke="#000" stroke-width="0.07">0.02</text>
<text x="197.00" y="73.24" font-size="7.00" text-anchor="end" stroke="#000" stroke-width="0.07">0.01</text>
<text x="197.00" y="104.61" font-size="7.00" text-anchor="end" stroke="#000" stroke-width="0.07">0</text>
<text x="179.60" y="64.30" font-size="7.70" text-anchor="middle" stroke="#000" stroke-width="0.07" transform="rotate(-90 179.6 64.3)" dominant-baseline="middle">Z [m]</text>
<text x="231.86" y="130.10" font-size="7.20" text-anchor="middle" stroke="#000" stroke-width="0.07">-0.04</text>
<text x="263.32" y="130.10" font-size="7.20" text-anchor="middle" stroke="#000" stroke-width="0.07">-0.03</text>
<text x="294.78" y="130.10" font-size="7.20" text-anchor="middle" stroke="#000" stroke-width="0.07">-0.02</text>
<text x="326.24" y="130.10" font-size="7.20" text-anchor="middle" stroke="#000" stroke-width="0.07">-0.01</text>
<text x="357.70" y="130.10" font-size="7.20" text-anchor="middle" stroke="#000" stroke-width="0.07">0</text>
<text x="389.16" y="130.10" font-size="7.20" text-anchor="middle" stroke="#000" stroke-width="0.07">0.01</text>
<text x="420.62" y="130.10" font-size="7.20" text-anchor="middle" stroke="#000" stroke-width="0.07">0.02</text>
<text x="452.08" y="130.10" font-size="7.20" text-anchor="middle" stroke="#000" stroke-width="0.07">0.03</text>
<text x="483.54" y="130.10" font-size="7.20" text-anchor="middle" stroke="#000" stroke-width="0.07">0.04</text>
<text x="357.70" y="139.00" font-size="7.70" text-anchor="middle" stroke="#000" stroke-width="0.07">X [m]</text>
<defs><linearGradient id="bs" x1="0" x2="0" y1="0" y2="1"><stop offset="0" stop-color="#AAFF55" stop-opacity="0"/><stop offset=".3" stop-color="#55FFAA" stop-opacity=".7"/><stop offset=".55" stop-color="#00FFFF"/><stop offset=".72" stop-color="#00AAFF"/><stop offset=".86" stop-color="#0055FF"/><stop offset="1" stop-color="#00008A"/></linearGradient><linearGradient id="fl" x1="0" x2="1"><stop offset="0" stop-color="#fff"/><stop offset=".6" stop-color="#fff"/><stop offset="1" stop-color="#fff" stop-opacity="0"/></linearGradient><linearGradient id="fr" x1="0" x2="1"><stop offset="0" stop-color="#fff" stop-opacity="0"/><stop offset="1" stop-color="#fff"/></linearGradient><mask id="fadeL" maskContentUnits="objectBoundingBox"><rect width="1" height="1" fill="url(#fl)"/></mask><mask id="fadeR" maskContentUnits="objectBoundingBox"><rect width="1" height="1" fill="url(#fr)"/></mask></defs>
<mask id="cP1" maskUnits="userSpaceOnUse" x="0" y="0" width="685" height="540"><rect x="24.2" y="160.3" width="315.9" height="94.3" fill="#fff"/></mask>
<g mask="url(#cP1)">
<rect x="24.2" y="160.3" width="315.9" height="94.3" fill="#0055FF"/>
<g transform="scale(0.5)" stroke="#000" stroke-width="1" stroke-opacity=".7" fill-rule="evenodd">
<path fill="#00AAFF" d="M44 317l638 0 0 196-154 0-2-4-2 0-3 4-477 0 0-107 8 0 4-2 2-1-2-3-12-1zM158 416l-1 3 1 4 4 2 2 0 3-4-2-4-3-2zM406 420l-2 3-2 10 2 5 6 2 3-3 2-8-3-4z"/>
<path fill="#00FFFF" d="M44 317l638 0 0 196-99 0 2-8-1-1-6-4-8-2-2 1-1 2 1 12-11 0-1-5-5-11-7-8-3-10-2-2-7-3-14 2-6 3-2 8 2 12-4 14-464 0 0-105 6 0 6-1 3-2 2-4-1-2-4-2-12-1zM144 404l-16 3-2 1-2 9 0 4 2 1 6 0 6-3 4-3 4 0 2 2 8 13 4 2 4-1 8-7 1-2-2-6-5-7-12-6zM188 458l-3 3-1 2 1 2 3 1 16-3 12 1 4-1 0-2-6-3-4 0-8 2-10-2zM226 412l-2 1 0 4 2 4 2 0 3-2 0-2-1-3zM232 387l-4 4-1 2 1 1 5 1 3-3 1-1-1-4zM330 390l-2 3 0 3 2 0 3-3zM340 502l-1 1 1 2 7-2zM414 398l-18 7-3 6-5 4-4 14-12 14 0 3 10 5 8 8 4 0 10-10 8-3 8-11 7-4 2-4 0-4-2-8-9-15zM610 420l-6 11 0 4 2 1 8-2 6-3 3-4-1-2-6-5-4-1zM330 424l-1 1-1 2 2 1 4-1 1-2z"/>
<path fill="#55FFAA" d="M44 317l638 0 0 196-64 0 5-8 0-2-2-2-9-3-4-5-2-1-4 1-12 7-6-1-7-6-3-6-3-8-8-6-3-6 0-4 2-6 2-1 12 7 14 5 32-9 5-2 1-2 0-4-4-3-14 5-8 0-12 3-6-1-4-4 1-4 5-5 4-1 8 3 4-1 28-10 8-1 4-2 2-3 0-3-12-5-5-10-2-2-11-3-4 0-2 3-5 16-3 4-4 3-8-1-6-2-12-15-4-3-2 1-4 5-11 6-1 4 4 14-6 9-2 2-4-2-2-3-1-4 1-8-2-2-8-1-6 3 0 2 4 8 0 10 3 10-1 2-5 4-13 4-3 4-4 10 2 8 0 4-8 14-135 0 2-10-2-7-6-3-14-4-4 4-4 8 0 4 1 8-291 0 0-103 6 0 6-2 7-5 2-4-3-2-8-3-10 0zM144 402l-18 3-2 2-4 12 0 4 2 2 2 1 6 1 12-4 2 0 10 14 2 3 4 1 4-2 6-7 8-3 4-2 1-2-5-11-5-5-7-4-8-2-8-1zM204 454l-18 2-5 5 1 4 4 3 18-2 14 4 2 0 4-4 4-9-1-2-3-2-14 0zM232 338l-4 3-4 5-1 3 1 3 2 1 2-2 1-6zM234 382l-12 8-10 1-2 2 0 2 8 4 4 4 0 2-4 3 0 3 3 12-3 8 1 2 1 0 4 1 8-4 4 0 4-5 7-16 0-6 3-8-1-8-3-3-3-1-5-2zM334 379l-6 3-5 9 0 8 3 5 4 0 3-1 7-10 0-4-3-8-1-2zM354 334l-18 9 0 4 6 2 14-3 8 0 2-1-1-2-3-6-4-3zM410 390l-6 3-10 2-8 6-6 3-2 3 2 8-2 2-6-7-12-4-10 3-12 8-6 1-4 1-5 6-1 2 1 4 3 1 14-2 8 1 10-1 8-2 5 1 1 2-6 14-2 0-8 0-8 2-18-2-6 4-1 2 2 4 1 2 4 1 10-4 4 1 6 3 14 0 2 0 4-7 4 0 4 3 3 5 5 17 3 3 3 0 4-2 4-9 15-5 2-2-1-8 2-5 2-1 10 8 7 12 3 2 4 0 4 0 2-2 4-8 2-4 6-1 6 1 6-1 15-7 0-4-2-4-14-8 0-4 6-12-2-4-5-2-4 0-5 2-7 5-2 0-10-3-10-2-4-2-4-4-8-14-4-1zM158 456l-6 3-8 0-3 4 3 8 4 4 2 0 2-2 10-10 0-4-2-2z"/>
<path fill="#AAFF55" d="M44 317l638 0 0 101-10-5-4-1-16 3-8-1-4-2-6-7-4-2-8-4-10-1-5 3-6 6-1 12-2 3-4 2-4 0-6-2-6-9-7-8-5-3-4 0-2 1-3 4-3 1-8-1-13 6-1 2 0 2 2 4-2 3-16 4-10 5-4 0-4-2-10 0-4-2-1-4 3-10 0-4-3-4-5-3-8-2-16 4-14 2-5-1-6-8-3-13-2-2-4-2-4-1-15 4-11 5-16 10-4 0-18-5-4-3-4-9-3-16-9-1-5 3-4 6-2 8-6 16 1 4 8 10 0 4-4 3-6 0-3 7 2 4 7 5 2 3-5 14 1 10 4 2 14 0 4 2 1 2 0 6-1 4-10 22 0 12-154 0-4-3-6-17-6-7-2-7 1-4 8-6 3-6 0-4-3-12 1-4 3-4 3-2 18-4 8 3 26 4 6-2 6 0 6-3 12 2 3-2 2-2-4-8 0-4 10-6 3-4 0-2-12-10-8-17-6-4-8-1-4 1-10 7-4 1-12-2-4 1-10 11-2 9-4 3-8-7-10 1-20-2-24 4-3 3-4 10 0 8 3 4 12 8 6 8 0 4-2 2-6 2-1 2 0 2 13 18 5 12-2 4 3 6 0 4-6 8-2 4-9 0-3-8 2-10 0-6-10-9-11 17 5 10 0 6-70 0 0-102 10-1 16-8 4 0 12 7 4-2 1-2 0-2-3-2-16-3-12-5-8-2-8 0 0-18 12 2 6 0 8-2 3-4-5-2-24-3zM230 332l-9 11-3 6 2 6 6 4 4-1 2-12 8-7 1-4-1-2-4-2zM356 328l-24 10-10 11 1 2 7 3 12 0 12-4 12 3 6-2 2-2 1-4-1-4-12-11zM230 446l-10 3-10-1-10 3-10 1-6 1-6 6-1 2 0 4 3 3 4 2 20-1 6 2 8 4 4 1 11-21 0-6zM670 435l7 0 3 6 2 2 0 70-10 0 2-8 6-14 0-4-6-7-5 1-23 9-12 0-3-1-2-2-5-11-2-2-4-1-2-2 2-3 2 1 4 3 14 0 4-1 2-2 1-4-1-8-3-10 0-4 1-2 6 0 12 6 2-1 4-8zM487 455l5-2 4 1 9 7-7 4-2 10-5 6-2 10-6 10 1 12-108 0-4-6-1-4 1-2 2-1 10 4 2-1-5-10 1-4 4-1 6 0 4-1 9-12 3-3 20-3 20 7 14 1 4-3 9-11zM373 459l1-2 2 4-2 1zM510 461l3 0 2 2-3 1-4-1zM597 473l5-2 2 0 2 2-8 11-4 9-4 2-4 0-3-4-1-4 1-4 3-5zM644 511l6-1 4 3-12 0z"/>
<path fill="#FFFF00" d="M44 317l187 0-1 4-5 4-5 12-6 6-6 2-2 3 1 9 1 1 6 1 3 4 0 4-3 4-8 3-2-1-1-8-2-4-5-3-4 0-1 3-1 6 1 12-3 5-4 5-3 6-13 5-22-2-14 3-10 1-3 3-9 16-2 2-4 1-12-1 0-4 6-12-1-8-3-3-8 0-9-1-21-7-4-1-2-2 0-2 2-2 16-1 6-2 5-3 3-8-4-3-14-1-14-3-6 0zM110 381l-1 2 0 4 3 4 4 1 3-3-1-6-4-2zM248 317l76 0 2 8 4 8-6 6-16 4-6-10-4-10-4-2-2 1-1 3-3 14-8 9-8 3-12-2-4 2 0 2 12 14 6 3 12-6 8-2 16-2 6 1 2 2-4 10 0 10-12 18-6 0-10-3-12 2-8-3-7-4-7-14-14-8-1-2 1-6-2-8-1-6 3-4 10-8 4-8 0-2zM379 317l303 0 0 91-6-2-8-7-4-2-6 2-6 6-4 1-10-6-18-6-10 0-14 4-10 0-10 3-14-4-2-2-4-6-4-2-4 1-10 8-4 2-6-1-10-4-6-1-3 1-2 2-2 4-1 12-3 6-3 2-4 0-3-2-1-14-10-6-16-2-20 6-4 1-2-1-1-4 4-8-1-4-14-10-10-4-6 0-6 6-26 12-8-1-8 0-10-3-4-4-2-8 0-14 4-4 4-3 14 7 2 0 9-8 2-4 0-4-2-4-7-6 6-6zM546 362l-6 5-2 6 2 3 6 3 2 0 4-6 7-2 0-2-6-4-3-2zM66 407l6-1 4 2 3 3 5 14-2 8 2 8 4 4 10 4 4 4 2 4-1 4-4 6-2 16-6 10 2 12 4 8-53 0 0-100 10-1zM283 427l9 0 13 10 12 2 1 2-4 12-2 16 4 1 16-2 4 2 1 7-7 10-4 2-20 0-18 8-16 1-2 7-1 8-85 0-2-4-7-8-3-12-3-6 0-4 5-6 28-2 6 2 12 7 6 1 1-2 2-8 8-16 3-8 2-5 4-2 8 1 4-1 14-10zM111 433l1-1 2 3-2 2-4 3-1-1zM176 447l2-2 2 2-4 2zM669 455l1-2 6 2 6 0 0 13-10 1-8 3-10 0-3-7-1-7 2-2 2 0 10 3 2-1zM130 471l2-1 4 3 2 5 0 5-4 0-4-2-2-6zM425 475l7-1 6 2 3 3 1 2-3 10 6 14 2 8-40 0 2-14-3-12 1-4 3-4 2-2zM472 483l4 0 4 4-1 6-3 4-10 2-6 5-6-2-5-5 0-4 1-2z"/>
<path fill="#FFAA00" d="M44 317l154 0 1 6 1 3 2 1 0 2-10 5-2 3 0 4 6 4 0 4-2 2-4 0-2 2-6 20-6 7-1 3 1 10-1 2-9 3-8 0-16-3-8 4-6 1-3-1-1-2-1-12-2-4-4-2-15-4-8-9-8-7-18 2-16-4-8 1zM271 317l13 0 1 6-3 8-6 4-4 7-4 1-2-2 4-4 0-4-2-8zM305 317l17 0 3 14-1 2-4 2-6-2-3-2-4-6zM388 317l294 0 0 84-4-2-8-7-8-3-6 1-8 4-8-2-20-2-20 1-10 1-10 0-2-1 6-10 0-4-2-4-10-7-10-3-12-7-4 1-9 8-9 11-10-1-4 2-8 5-14 2-12 7-8 0-7-2-13-12-10-1-22-10-16-5-2 2 1 8-2 4-9 4-8 0-2 0-3-4-2-12 0-4 9-10 1-4-4-10zM466 355l-4 1-1 5 1 3 4 1 2-1 1-3-1-4zM352 357l2-1 2 1 8 10 1 8-3 4-6 0-4-3-2-11 0-6zM289 367l13-2 4 2 1 2 0 12-7 9-4 1-10-4-11-2-1-4 3-4 5-6zM258 373l4-1 6 5 1 4-3 4-8-6-1-2zM62 411l8-1 4 3 2 14 1 16 3 6 8 10 2 10 1 10-9 12 1 12-6 6-2 4-31 0 0-99 8 0zM279 431l7-1 6 1 4 4 3 6 3 2 10-1 2 1-4 18-6 9-6 9-2 8-3 4-9 4-12 0-8 3-1 1 1 4 0 10-75 0-2-6-5-8-1-4-2-12 2-4 10-4 9-1 4 1 16 10 4 0 4-1 3-3 1-10 7-12 5-13 4-2 10-1 14-10zM415 487l1-2 4 0 4 2-1 26-10 0 3-12z"/>
<path fill="#FF5500" d="M44 317l127 0 2 2 7 4 2 6-2 2-8 6-3 6 1 6 6 20-5 12 1 12-1 2-5 2-8 0-8-2-10-6-3 2-5 4-4 0-1-10-3-6-14-5-6-3-8-8-5-10-3-3-4 1-7 6-7 2-4-1-12-4-10 1zM183 317l4 0-3 1zM393 317l5 0 1 10-1 2-6 2-1-2zM410 317l195 0-1 6 0 3 6 4 4-2 4-3 2-4 1-4 29 0-1 8-2 8-1 22-5 12-2 16-5 2-10-1-6-5-1-6 5-10 0-2-14 3-22-5-10 1-10-3-12-8-6 2-12 10-30 15-6 1-4 0-2-2-3-18-2-4-25-13-4 1-5 2-4 10-11 9-4 1-6 0-4-2-4-4-3-16-6-12zM626 329l-1 4 1 4 4 1 2 0 2-3-1-2-5-4zM386 357l4-1 2 2 6 11 1 2-1 2-4 1-4 0-3-1-2-2-3-8 1-4zM287 371l7-2 7 2 1 4-2 6-2 1-4 1-10-4-1-2 1-2zM678 377l4-1 0 3-4 0-1 0zM56 415l2-1 6 1 4 4 3 10 0 20 2 4 4 6 2 8 0 6-3 5-12 9-2 0-5-6-3-2-10 2 0-65zM276 435l10-2 4 2 1 2-2 2-9 2-14 12-5 8-1 6 2 4 10 8 8 3 4 2 2 3-1 2-3 2-4 0-16-6-8 0-6 4-8-3-3-5-1-6 5-10 5-14 2-2 12-4 10-7zM304 449l6-1-1 9-5 7-6 3-2-4 1-8 3-4zM187 483l3-2 2 0 4 3 14 2 12 5 4-1 8-3 2 1 4 9 2 2 6 1 4 2 4 5 2 6-64 0-1-8-4-10 1-4 4 2 2 0 1-4-3-2-4 3-3-5zM44 495l0-2 2 0 6 2 3 6 7 6 3 6-17 0-1-6-3-2z"/>
<path fill="#FF0000" d="M44 317l114 0 2 6-2 1-8-1-8-5-2 0-3 5 0 6 1 6 8 2 4 3 11 13 2 4-2 8 7 5 1 3-2 8 2 10 0 2-3 2-4 0-8-1-4-2-8-7-10 0-4-7-4-3-10-3-7-3-8-8-5-14-4-7-4-3-4 0-10 16-4 0-10-6-14 4zM445 317l16 0 1 3 1-3 118 0 6 10-1 16-4 8-6 2-6-2-6-8-4-3-8 0-4 3-10 12-4 0-2-2 0-8-2-3-4-1-4 8-4 1-2-1-2-4-2-2-8-5-10 0-8 5-6-1-6-3-12-8-2-6-8-1-3-1zM627 369l5-1 2 2 0 7-2 1-4 0-3-3 1-4zM58 417l6 4 2 6 0 34-8 2-8 7-6 2 0-54 8 0zM250 457l0-2 3 2-3 1z"/>
<path fill="#AA0000" d="M100 317l21 0 2 8 6 10 5 4 8 4 4 6 0 4-6 6-3 8 9 2 12 5 6 15 0 2-2 1-4 0-4-1-10-9-10-1-4-11-14-2-6-2-6-5-2-4-3-14-3-10 0-6zM537 317l29 0 0 4-4 8-11 4-5 0-4-2-2-2-2-6zM44 323l0-1 3 1 3 4 0 4-2 2-4 0zM570 327l2-2 2 0 4 4 2 12-1 4-3 1-2-1-4-14zM57 423l1-1 2 0 1 3 2 8-1 10 1 10-5 1-14 0 0-30 8 0z"/>
</g>
</g>
<rect x="24.2" y="250.4" width="36" height="4.2" fill="url(#bs)" mask="url(#fadeL)"/>
<rect x="324.1" y="252.4" width="16" height="2.2" fill="url(#bs)" mask="url(#fadeR)"/>
<text x="182.15" y="157.50" font-size="8.00" text-anchor="middle" font-weight="bold">Vx LaVision3D [m/s], ppp = 0.02</text>
<text x="21.20" y="162.70" font-size="7.00" text-anchor="end" stroke="#000" stroke-width="0.07">0.03</text>
<text x="21.20" y="194.13" font-size="7.00" text-anchor="end" stroke="#000" stroke-width="0.07">0.02</text>
<text x="21.20" y="225.57" font-size="7.00" text-anchor="end" stroke="#000" stroke-width="0.07">0.01</text>
<text x="4.80" y="207.45" font-size="7.70" text-anchor="middle" stroke="#000" stroke-width="0.07" transform="rotate(-90 4.8 207.45)" dominant-baseline="middle">Z [m]</text>
<mask id="cP2" maskUnits="userSpaceOnUse" x="0" y="0" width="685" height="540"><rect x="367.0" y="160.4" width="315.8" height="94.3" fill="#fff"/></mask>
<g mask="url(#cP2)">
<rect x="367.0" y="160.4" width="315.8" height="94.3" fill="#0000FF"/>
<g transform="scale(0.5)" stroke="#000" stroke-width="1" stroke-opacity=".7" fill-rule="evenodd">
<path fill="#0055FF" d="M730 317l638 0 0 196-152 0-2-3-2 1-1 2-481 0z"/>
<path fill="#00AAFF" d="M730 317l638 0 0 196-147 0 0-4-5-6 0-2 6-3 5 3 5 0 4-4 1-4-3-8-2-1-8 1-4-2-2 0-2 7-6 3-4 5-4 1-6-1-12 8-1 3 1 4-454 0 0-117 6 4 14 7 6 0 0-2-4-3-8-3-6-5-4-1-4 1zM834 407l-6 2-6 8 1 4 2 2 7 2 0 8 6-3 8 0 3-3-4-6-1-10-3-4-1-2-2 0zM1038 449l-1 2 1 1 2-3zM1204 486l-1 3 1 2 4 1 0-3zM1189 511l5-2 3 2 2 2-12 0z"/>
<path fill="#00FFFF" d="M730 317l638 0 0 196-120 0-1-6 1-6-1-2-4-4-7-20-4-4-2-6-2 0-6 0-2 2 1 2-1 0-8-1-6 4-6-1-8 4-1 2 3 10 3 4-1 2-14 10-3 4-1 6-448 0 0-114 22 10 5 0 4-2-1-2-6-5-10-4-8-6-6-2zM838 398l-6 5-6 2-10 12-4 2 1 6-3 8 2 12-3 8 3 3 6 0 2 2 1 3-1 6 2 3 6-1 13-12 5-10-1-10 6-6 1-2 0-14 1-8 0-4-3-4-2-1zM892 453l-6 2 2 2 14 3 3-1 1-2-1-2-3-2zM904 406l-1 3 1 6 2 2 2-2 0-8 0-1zM1022 416l-3 3 1 3 2 0 3-3zM1034 440l-1 1-1 6-4 8 2 2 8 5 2 7 2 2 4-1 2-1 1-4 0-6-3-8 2-3 4-3 4-4-4-1-4 2-4 1zM1046 407l-6 1-3 3-1 8 1 2 13 3 11-5 0-2-1-2-6-2-4-6zM1074 412l-5 17-1 1-4-2-4 1-4 12 6 8 6 2 16-3 2-2 2-4 4-3 3-4-1-4-6 1-4-1 1-6 4-8-1-4-12-2zM1266 488l-1 3 1 3 8 5 4 5 4 2 3-1 3-8-2-4-6 2-4 0-4-2-2-5-2-1zM1284 418l-1 1-1 2 2 1 2-1 0-2zM823 439l2 0-1 2zM828 455l0-1 2 0 1 3-3 0zM1234 507l5 0 0 2-2 4-3 0-4-4z"/>
<path fill="#55FFAA" d="M730 317l638 0 0 175-3 1-1 4 2 4 2 0 0 12-62 0-2-6-2-2-8 2-1-2 1-4 6-6 0-2-2 0-4-3-4-6-10 5-2 0-2-6-2-1-4-1-8 1-8-1-2-6-7-4 0-4 1-6 4-6 12 8 6-1 1-1-2-6 5-6 2-9 4-4 12-1 4 4 5-2 2 0 0 2-3 6 0 2 5 8 3 2 4 0 4-1 4-6 7-3 5-6 8-1 2-1 0-2-2-4-6-6-2 0-1 2-1 10-2 1-6-1-6-8-2 0-2 3-2 0-2-1-2-2-3-8-7-3-2-3 0-2 3-6-3-9-2-1-11 2-2 2-1 6-5 4-1 2 9 14-1 4-2 0-5-6-3-2-4 0-4 1-2 0-3-3-3-6-4-3-6-2-6 0-4-1-4 1 0 3 2 1 6-1 2 2 3 12 1 2 6 4 1 2-1 6 2 1 2 0 1-1 2-4 0-4 1-2 4-1 2 1 0 2-12 17-6-2-6 0-4-3-10 8-2 0-4-1-6 2-6-2-11 9-5 5-4 7 3 18-12 12-3 4-1 4-121 0 3-4-1-4-4-4 3-10-1-8-4-6-1-2 11-9 1-3-1-5-2 1-2-1-1-3 0-2 3-1 3 5 1 0 8 2 6-3 8 3 8-2 8 0 4-3 6-3-3-8-2-12-8-10-1-2 2-3 4-1-6-10-6 0-6 2-8-1-4 2-2 5-2 1-8-4-6-7-2 0-16 3-6-3-4 0-2 2-3 6-4 6 0 4 3 12 2 2 4 1 1 3 1 8-4 2-1 6 5 6 6 3 2 3 1 6 6 16-1 3-2 1-8 0-2 2 0 4-2 2-6-3-2 0-2 2-2 3 2 3 5 3-1 4-290 0 0-112 17 8 7 2 11-2 1-2-12-10-8-3-12-8-4-1 0-18 2 0 1-2-3-1zM840 389l-3 4-13 10-6 7-8 4-3 3 0 8-1 8 2 10-12 17-1 5 1 9 2 3 2 1 4-5 2-1 8 2 18 12 3 7 3 1 7-3 2-4-1-4-2-2-7-2-2-4 1-4 2-2 4 0 3-4 11-8 2-2 0-2-6-8-3-6 4-4 1-3 0-11 3-18-2-4-5-6-1-4-5-2zM888 451l-9 2-1 2-1 4 3 2 12 0 12 2 4-2 3-4-2-4-5-2zM898 346l-2 2-1 3 7 8 4-4 0-4-1-2-3-2zM930 406l-2 1 2 2 1-2zM966 427l-3 4 0 6 1 2 2 0 2-2 3-8 1-2-2-2zM1008 340l0 5 14 15 4-1 3-6 3-2 1-2-9-3-6-4zM1068 397l0 2 4 2 2 0 2-2 1-2-3-1zM1134 414l-2 5 2 3 4 2 2 0 6-5 0-2-4-3-4-1zM1174 441l-2 2 2 1 1-1zM1182 416l-4 3-3 6 7 1 5-3 2-2-1-3-2-2zM1216 404l-2 1 2 0 1 0zM1308 419l-1 2 5 0-1-2zM1358 421l-1 4 1 6 2 1 2-1 2-2 0-4-2-3-2-1zM1284 440l-2 3-1 4 3 2 2 0 3-4-3-4zM900 373l-7 4-2 2 3 5 6 5-4 12 5 20 5 5 8 0 6 5 2 0 2-2 1-6 4-4-5-6 0-3 2-3 2 0-2-2-3-10-3-4-10 1-8-3-2-2 10-5 1-1 1-4-2-2-3-2zM1042 429l4-1 5 3 2 2-1 2-6 4-4 0-4-4zM1251 489l3-2 2 2 0 2-2 2-2-2zM1258 503l4-1 5 3 1 2-3 6-12 0 2-6zM1027 505l1-2 2 1 2 3 0 6-5 0-2-4 0-2z"/>
<path fill="#AAFF55" d="M730 317l187 0 1 3 6 2 2 2 2 0 2-3 0-4 438 0 0 105-10-9-6-9-6-2-2 0-4 3-6 1-4 2-6 1-4 5-2-1-4-6-4-2-2-2 0-4-1-4-3-3-4-1-8 0-6 3-4-2-2 0-4 2-6 1 0 8-2 4-4 5-4 2-7-5-1-7-2-2-6 2-10 1-16-4-8 1-8-2-4 3-3 4 1 8-6-1-14 0-7-3-3-4-4 0-4 0-4 5-4 2-3-1-9-6-4-1-2 5-4 3-2-1-4-6-4 2-4-2-1-2 2-4 0-6-1-3-6-1-2-2 2-3 1-3 0-4-3-2-4 2-2 3-2 1-4-2-4-4-4 6-4 2-16-1-5 1-3 2 2 6-4 5-12 5-4 0-4-2-2-4-1-8 2-8-1-5-2-3-6 0-2 1-5 11-3 8-8 3-12 8-3 5 1 4 2 2 10 1 2 3 1 8-2 4 5 6 0 2-4 8 0 2 10 7 5 9 1 4-1 8-1 2-6 0-2 1-2 3-2 4-2 1-8-1-5 2 1 2 5 4 3 8-7 12-160 0-1-6 1-6 11-9 2-3 0-20 6-7 6-3 3-4 0-4-8-10-1-18 2-14 2-4 6-1 1-3-1-5-2-2-2 0-4 1-2-1-6-7-4-2-4 0-4 2-6 7-16 14-10 4-3 3 0 10-1 4 0 6-3 6 0 8-9 12 2 8-3 10 5 3 1 3-9 6-1 8-3 8 2 6-54 0 0-110 16 7 8 2 18 1 4-2 1-2 0-2-5-4-8-2-10-7-8-2-10-8-6-2 0-10 12 0 4-3 0-2-1-2-3-2-12-1zM748 376l0 5 2 4 2-1 0-4-2-4zM878 448l-4 3-2 5-4 5 0 4 2 1 24-3 12 3 8-6 3-5-1-4-12-3zM910 339l-6 4-8-3-4 2-4 12-3 5 1 10-2 8 4 10 2 14 6 10 0 10 10 11 6 1 1 2 3 8 2 2 2 0 10-6 6 0 6-4 4 0 6-4 6 0 2 8 1 2 5 1 2-1 12-15 15-1-1-2-4-2-6-4-12-2-5-10-5-4-6-1-3-3-3-7-4-1-4-3-2-1-6 5-4 0-8-5-4-4-3-8-7-4-2-2 1-4 6-12 5-4 2-4-4-4zM1004 336l-2 5 0 9 6 2 3 5 9 8 4 0 4-2 4-7 9-7 0-4-1-3-6 1-24-8zM1050 383l-2 4 0 2 5-4 0-2-1-1zM888 419l-1 2 3 1 2-1-1-2zM1086 397l2 0 1 2-5 0zM1339 415l1-1 2 2 4 11 6 4 2 10 4 2 10 0 0 22-8 0-2 1-5 5-2 6-3 3-7 3-11 8-4 1-4-1-2-6-4 2-4 4-4 1-3-5 2-10-2-6 1-3 4 7 4 1 4-1 1-2 1-8 5-6 0-6 2-2 5-4 8 0 4-2 2-10-1-2-5-4-3-6 0-4zM1322 477l-1 2 1 3 6 1 4-2-1-2-2-2-5-1zM960 417l0-1 1 1 1 2-2 2zM1325 417l2 2-3 1-1-1 1-2zM1192 427l8-2 2 1 2 7-1 2-3 0-9-4-1-2zM1231 435l3-1 3 1 3 2 1 2-1 2-10-1-1 1-1 4-2 1-2 1-1-2 1-2 4-3zM1133 441l5-1 10 5 2 4 6 6-3 6 1 4 4 1 3-1 2-4 5-6 2 0 3 4 0 4-4 6 1 2 6 6 6 4 2 10-2 4-4 3-10-1-4-5-2 0-3 3-1 5 6 2 4 4 0 7-101 0 1-6-2-4-2-2-4 2-2-1-2-3 2-8 2-4 8-4 2-7 7-3 1-2-2-4 1-2 5 0 2 6 1 2-4 4-1 4 2 2 6 0 1-4-1-4 0-10 2-2 14-2 6-1 4 4 8-2 5-5 7-2 3-2 0-4-6-4 0-2zM1192 445l4-1 2 1 0 2-4 9-4 0-2-1-1-4 0-2zM1273 455l3-1 6 4 10-4 0 3-2 2-6 1-3 3 5 3 0 3-8 1-2-1 1-4 0-2-3-2-1-2zM1294 463l2 0 1 2-3 0zM1251 465l3-1 4 3 6 2 2 2 0 4-4 2-2-2-2-5-6-2zM1058 473l4 0 0 2-4 0zM812 479l4 2 4 5 4 0 3 1 1 2 0 12-4 4-4 1-2-1 1-4-1-8-2-3-4 0-2-1-1-6 1-3zM1334 491l2-1 2 2 3 3-1 2-2 0-4-2-1-2zM1346 493l2-1 2 0 1 3 0 2-3 1-3-1 0-2zM1357 503l1-1 2 0 2 7 4 4-21 0 0-4 1-1 6 0zM802 505l2 0 2 2-2 4-2 0-2-2 0-2zM1320 505l2-1 4 1 4 6 3 2-19 0 0-4zM1005 513l3-1 5 1z"/>
<path fill="#FFFF00" d="M730 317l166 0-1 6 0 8 3 2 6 0 3 2 0 2-3 1-12-4-4 1-2 14-6 5-1 3 2 8-4 14 3 2 3 8-1 3-6 1-2 0-4-4-8-2-6 1-10-5-6 0-3 2-6 8-7 6-10 7-10 2-5 5-2 6-3 2 2 10-1 14-3 5-6 5-1 4 3 10-2 3-6 3 1 4-1 4-4 5-5 3-1 2 4 8 1 8-1 4-44 0 0-109 18 8 14 2 10 3 8-2 10 4 1-2-4-14-7 0-8-4-8-1-5-3 0-2 3-8 0-2-8-9-6-12-4-1-14-1zM908 317l4 0 0 2-2 2-2-2zM947 317l421 0 0 90-4 1-2-1-1-8-3-3-2-1-16 0-4 4-10 3-8-5-8-3-6-4-16-3-6-4-2 0-6 6-6-1-2 1-3 10 1 4-4 4-2-1-2-7-4-4-10 0-8 4-8-3-6 0-8-2-6 2-16-6-2-1-1-6-1-2-7 2-2 8-9 6-2 0-1-4 2-12-3-2-4 2-2 2 0 6-2 4-12 6-2 0-2-4-6 0-12-10-1-2-1-7-2-2-8-4-12-1-4-4-2 0-6 2-2 2-1 8-3 2-8 1-12-2-4-2-2 0-8 9-2 4-1 6-1 1-2-1-2-3-1-21-4-8 2-6 5-4 4-1 8 1 1-2 0-6-3-6-1-6-3-2-14 7-22-6-5 1-5 2-4 7-8 7-4-1-6-4-4 5-4-1-2 1-1 2 1 2 2 1 4-1 12 6 8 1 8 0 9 5 5 6 0 4-3 10-5 4-6 6-8 4-6 6-2-2-2-4-4-3-2 1-6 4-4-2-1-16-1-3-8 4-10 0-8-3-8 4-4-1-3-5 1-12 2-2 0-2-2-7-2 0-6 10-4 1-2-2 0-2 4-10 6-4 1-2 3-10 11-6zM960 330l-1 3 1 1 4 0 3-1-2-2zM1062 324l-4 5 0 3 2 1 6-6 0-2-2-1zM914 331l3 0-1 1zM875 403l3-1 4 1 2 4 0 2-2 1-4-1-2-2zM860 417l0-1 5 9 1 4-2 1-4 0-2-4 0-4zM875 425l3-1 10 4 6-1 4 1 3 3 4 6 1 4-1 2-5 3-4 0-8 0-8-2-6 1-4-1-3-3-1-10zM983 429l11 2 4 2 2 4 0 4 1 4 6 6 9 5 3 5 2 4-1 2-8 3-6 7-8 2-8-1-4 0-13 9-3 10 0 6-3 6 1 4-121 0 0-6-5-2 2-6 10-6 2-6 3-4-2-6 3-4 2-1 22-5 10-1 4 1 11 4 9-9 6-9 6 0 4-1 5-3 4-6 7-1 4-3 2 0 6 4 7 0 11-13zM1352 449l6 0 6 3 4-1 0 8-4 0-4-2-2 1-3 7-3 2-4 1-6-1-6 5-2-1-4-4 0-2 3-4-1-6 0-3 4-1 6 3 6-1zM1127 467l4 0 0 4-2 8 4 4 3 12 10 10-1 8-74 0 1-10 3-4 7-8 8-2 5-8 3-8 2-3 4-2 2 0 6 5 2 0 4-3zM1151 471l7-2 6 2 14 12 2 4-1 4-3 1-6-1-9-10-9-2-2-2-1-2zM987 511l3-2 1 4-4 0z"/>
<path fill="#FFAA00" d="M730 317l157 0-1 10-5 4-1 2 0 14-5 10 2 6-6 20-3 1-6 0-8 2-8-4-6 0-4 2-5 7-7 7-10 5-4 1-8-1-2-2 0-6-2-10-10 4-8-2-1 2 0 4-3 1-10 0-1-1 2-2 7-7 4 0 1-3-5-2-4-3-8-2-2-3 1-4-6-2-3-6-2-1-12 1-8 0zM951 317l59 0 1 8-2 4-3 1-10 1-6 8-4 3-2-1-7-14-11-5-4-4-2 1-2 4-6 2-2-4zM1032 317l9 0 1 6 2 1 4-2 2 1 0 2-4 0-4 5-10 3-4 1-4-1-2-2 1-4 3-3 5-1zM1057 317l5 0-2 1zM1069 317l278 0 2 8 7 8 6-6 1-6 5-1 0 26-3 1-1 2 1 4-1 6 1 2 3 1 0 32-4 0-6-5-6-1-8-7-2-1-5 5-2 6-3 3-4 2-4 0-6-4-6-1-10-5-12-3-2-2 1-4-1-3-6-3-6-6-10-5-10 1-5 4-3 3-4-3-5 2-3 4 0 2 8 8 1 4-1 2-6 0-6 5-6-1-8 1-6-2-6 0-4-5-8-2-1-8-5-6-6-4-8-2-2 0-2 1-2 7-8-2-2 2-6 10-2 1-6 0-6 3-6-3-6-1-1-2 1-10 10-12 0-2-6-2-10 1-6 6-14-2-14 4-4 2-2 3 0 8-6 2-4 0-6-4-6-8-2-2-2 0-1 10-11 12-2-3-1-13-3-6 0-4 4-4 4-1 4 1 6 4 7-6 2-4-5-6 1-2 7-2 3-2 0-12zM1138 363l-2 4 1 4 3 3 6 4 3-3-1-4-4-5zM1322 342l-2 1 0 2 2 1 1-1 0-2zM1350 354l-2 1 0 2 2 2 2-2zM1353 317l9 0 0 1-2 1-4 0zM943 337l7 2 6 10 0 2-4 2-6 0-4-1-4-5-8 3-2-1-1-4 3-6 4-1 4 0zM959 357l1-2 2 0 6 3 12 3 8 3 12 1 5 2 2 4-2 6 1 6-4 8-4 2-6-1-4 2-2 0-5-5 1-1 1-3-2-4-9-7-4-1-4 0-6-4-6 0-2-2 1-2 5-3zM942 369l0-1 2-1 1 2 3 6 0 2-2 1-3-1zM931 377l1-2 2 0 2 2-1 2-3 0zM976 385l2 1 2 3-4 0-1-2zM730 407l2 0 12 6 18 3 10 6 6-1 4 2-1 4-3 4 0 2 7 10-1 2-4 2 0 15-2 1-4 0-6 7-5 3 5 8-6 10-1 8-4 8 1 6-28 0zM772 439l-2 2 0 2 4 1 2-1 0-2-2-2zM795 407l1-2 1 2zM892 431l4-1 3 3 1 5-2 4-12-1-6-1-6 1-3-2 1-4 4-4 2 0 8 3zM983 433l3-1 3 3 4 10 4 6 10 4 5 4 1 2-4 6-7 5-6 2-8-1-18 11-7 11 1 8-3 10-100 0 1-2 12-6 1-2 1-2 0-2-7-2 0-6 1-3 2-1 8 2 2-6-3-6 0-2 3-3 16-2 2 1 8 6 4 0 5-4 2-6 5-7 6-2 12-7 10-1 4-5 14 0 8-4 3 4 3 0 1-2-4-4zM1155 473l5 0 1 2-5 1-1-1zM1104 481l8-2 4 1 3 3 1 7 2 3 6-1 2 3 0 2-6 4-1 2 0 2 3 2 6 2 2 4-30 0-2-4-8-6-2 2-2 3 0 5-15 0 7-13 4-2 6 0 2-1 2-8 2-2 6 0 2-2 0-4zM1112 502l0 2 1-1zM855 497l5-2 4 2-2 4-2 1-2 0-2-2z"/>
<path fill="#FF5500" d="M730 317l138 0 0 4 3 4-1 10 4 3 1 7 0 4-7 12 3 8-3 10-2 2-6-1-6 4-10-4-6 1-3 2-6 8-6 6-9 3-6-1-2-1-1-3-1-14-4-2-8-2-2-8-2-4-8-7-6-1-3-4-9-3-4 0-8 2-9 5-11 0zM976 317l26 0 3 8-1 2-4 0-8-2-4-6-2-1zM1071 317l12 0 3 6 8 3 2-1 2-2 0-2-1-4 247 0 2 8 5 6 4 12-1 2-6 1-12-9-10 0-6-2-2 0-2 2-2 8 4 7 4 1 3 6 3 1 4-2 2 0 4 5 0 9-2 2-6 1-2 2 0 6 2 4-2 2-2 0-2-5-10 1-2-5-2-2-6 2-4-1-4-8-5-4-2-6-7-4-6 1-6-3-8 1-8 0-6 4-14 3-6 2-4 0-2 2-3 14-3 2-6 1-2-1-6-9-6-3-8-9-8-3-4-6-4 1-6 4-3-1-3-6-2-1-6 1-6 4-8-6-14-1-12 6-4-1-6-4-4 0-6 5-4 1-2 0-1-2 2-4-3-2-4 2 0 2 3 4-6 10-1 8-2 2-2 0-7-4-3-8 1-4 3-4 12-7 2-3 0-4-3-6-4-6zM1126 334l-2 1 0 2 0 3 2 0 3-1 0-2zM1042 357l4 0 3 4 0 12-5 7-2-2 1-9-5-6 0-2zM965 363l5-1 10 1 8 4 12 4-5 4-9 2-8-3-12-7-1-2zM1348 365l6-1 2 1 0 2-4 2-4-2zM1358 367l4-2 6 2 0 4-6 3-4-3zM1222 381l6-1 2 3 0 2-3 2-5-1-2-3zM730 411l0-2 14 6 16 3 4 3-1 8-4 8 0 6 1 2 10 8 2 4-6 5-4 1-5 8 0 4 3 4 1 4-4 10 0 6-5 8 0 6-22 0 0-29 1-3-1-1zM962 447l7 0 5 5 6-1 4 2 6 7 6 1 1 4-3 2-10 3-10 8-5 3-7 7-6 1-2 2 4 10-2 12-71 0 2-20 7-14 6-2 10 4 14 0 2-4-1-8 1-3 4 0 4 3 2 3 2 0 12-11 2-4 6-4 1-4zM962 458l-1 1 0 2 7 8 2-4 0-5-4-2zM939 459l3-1 0 1-2 2z"/>
<path fill="#FF0000" d="M730 317l5 0-1 6 2 3 2 0 4-3 0-2-4-4 125 0-3 4 0 6 4 5 2 6 4 5-1 2-9 5-6 5 4 4 4 8 3 4 0 2-1 2-8 3-2 3-12-2-6 1-12 14-6 2-7-5-1-3 0-4 4-11-1-2-3-2-3 2 0 4-3 1-4-1-2-2-3-10-7-5-12-11-10-2-6-4-4 0-3 4-5 3-4 4-14 3 0-12 3-2 1-2-4-1zM806 328l-4 3 2 2 6 1 2-1 0-4zM830 326l-2 3 1 4-1 1-7 3 0 2 3 2 4-1 4-3 0-10zM826 348l-1 3 0 2 3 3 6-1 4 2 2-1 3-3 0-2-3-2zM1107 317l10 0 1 3 2 1 2 0 2-4 178 0 2 1 1-1 9 0 1 8-3 0-4-1-4 6-6-1-7 8-1 8-2 1-6-2-4 2-2 0-3-3 0-2 9-1 5-7-2-4-5-4-20-1-2 3 0 4 2 3 8 7-1 8-3 4-4 1-4-1-10-6-4-5-2-1-4 2-4 8-4 2-10 11-6 4-2 0-2-1 0-6-2-1-4 5-4 0-4-2-1-4 2-6-1-2-8 0-8-5-8-1-6-6-14-4-6-6-2-4-6-4-2 0-2 1-6 7-10 2-2 4-2 1-2-1-2-2 0-2 3-4 0-4zM1323 317l18 0 2 8 4 6-1 2-4 1-12-4-6 0-2-1-2-2zM1082 331l2 0 4 2 0 2-2 2zM1234 355l0-2 3 2-1 1zM1302 359l4 0 2 2 0 6-2 2-2-1-1-1-1-6zM1041 361l1-1 2-1 1 2 0 2-1 1-2-1zM1067 365l1-1 2 1 2 4-2 1-2-1-1-2zM975 367l5-1 4 3 0 2-2 1-2 0-4-3zM735 419l3-1 3 1 2 2 0 2-4 4 0 2 3 2 2-6 6-5 6 1 3 2 1 2-2 2-6 3-7 7 0 6-3 10 5 6-2 4 3 6-2 3-10-2-6 1 0-47zM966 449l1 2-1 1-2-1 0-1zM976 461l4-1 1 1 0 4-3 2-2-1-1-1zM952 469l6 0 6 10-2 4-2 1-10 0-4 1-5 4 0 2 6 8 2 6 3 4-2 4-35 0-5-6-2-6-4-4-2-5-4 0-1-3 0-6 3-2 4 2 0 2 0 6 12-4 10 3 12-2 2-5 4-2 2-6zM748 477l6 2 1 4-2 6-3 3-4 1-3-2-2-4zM732 507l4 0 10 5 0 1-13 0z"/>
<path fill="#AA0000" d="M753 317l7 0 1 6-4 4 2 4-1 2-4 2-4 1-1-1-1-2 2-4 3-4-1-4zM768 317l13 0 1 2 4 4 4 1 5-1 2 2 0 2-5 6-6 4-4 6-2 0-4-10-2-2-8 2-2-2 0-6 3-4zM839 317l4 0-3 5zM1159 317l15 0-2 2-6 1-6 2-3-1zM1220 317l4 0 2 6-2 4-2 1-3-1-1-2zM1238 317l6 0-2 1zM1245 323l7 0 2 8-1 4-3 1-4-1-6-6 2-4zM1198 329l2 2-1 4-7 3-4 6-4-1-3-2-1-2 9-2zM797 337l1-1 2 0 7 3 1 2 2 11 14 13 8 0 1 2 1 5 2 1 2-5 2-1 2 0 3 4 7 4-1 4-3 0-8-2-4 0-6 6-6 9-2 1-2 0-2-6 0-14-1-4-3-4-6-4-6 0-8-8 2-8 0-6zM857 337l3 1 1 3-5 3-2-1 2-6zM1207 343l4 2 1 2-2 3-3-1 0-4zM1257 343l2 0 2 2 0 4-1 2-2-1-3-3 0-2zM736 449l0-2 1 2-1 2zM917 493l5 0 10 6 3 4 6 4 0 6-17 0 0-6 3-6 0-2-1-1-4 4-4 0-2-2-1-3z"/>
</g>
</g>
<rect x="367.0" y="250.5" width="36" height="4.2" fill="url(#bs)" mask="url(#fadeL)"/>
<rect x="666.8" y="252.5" width="16" height="2.2" fill="url(#bs)" mask="url(#fadeR)"/>
<text x="524.90" y="157.60" font-size="8.00" text-anchor="middle" font-weight="bold">Vx LaVision3D [m/s], ppp = 0.16</text>
<mask id="cP3" maskUnits="userSpaceOnUse" x="0" y="0" width="685" height="540"><rect x="24.0" y="276.1" width="316.0" height="94.7" fill="#fff"/></mask>
<g mask="url(#cP3)">
<rect x="24.0" y="276.1" width="316.0" height="94.7" fill="#0000FF"/>
<g transform="scale(0.5)" stroke="#000" stroke-width="1" stroke-opacity=".7" fill-rule="evenodd">
<path fill="#0055FF" d="M44 548l640 0 0 196-640 0zM150 652l-1 2 0 2 3 2 6 0 3-2-2-4-3-2z"/>
<path fill="#00AAFF" d="M44 548l640 0 0 196-640 0zM138 646l-2 2 8 11 6 2 8 0 5-3 1-2-2-4-6-5-12-3zM192 680l0 1 1-1z"/>
<path fill="#00FFFF" d="M44 548l640 0 0 196-147 0-1-22 4-14-1-2-3-2-8-1-20 1-3 2 2 6-2 6 1 4 10 10 0 2-3 10-469 0 0-109 3-1 1-2-4-13zM136 642l-6 2-1 4 13 14 16 1 6-2 3-3 0-4-3-4-8-7-10-2zM202 672l-8 3-5 3-4 4 0 4 3 1 2-1 10-6 10-2 1-2-1-2-4-2zM220 639l-1 1 1 4 2 8 3 4 5 2 10-2 0-2-6-8-10-6zM234 607l-9 5-1 2 6 5 14 0 3-1-5-10-4-2zM330 573l-2 1 0 3 2 4 2 0 1-5zM384 648l-3 2-1 2 7 10-1 2-10 11-4 1-8-2-2 2 3 10 5 7 14 3 4-2 6-7 4-2 12 0 10-3 8-10 12-6 8-12-1-2-5-1-10-1 3 10-1 3-4 4-8-1-6-4-5-10-3-2-6-1-8 1zM600 647l-3 7-1 6 4 6 4 3 4-1 10-11 8-3 0-2-10 0-12-5zM332 614l-3 2-1 4 2 9 2 0 3-13 0-2z"/>
<path fill="#55FFAA" d="M44 548l640 0 0 196-78 0 4-8-1-8 4-6-1-3-4-3-6 0-6 2-6 5-4 0-3-9-3-4-6 1-5-3-2-6-2-8 2-4 7-6 4-3 6 0 2 1 4 4 4 10 6 7 4 2 2 0 1-3-1-12-4-4-6-1-3-1-11-11-2-1-2 1-4 3-4 0-1-2 1-2 5-4 2-2 0-2-6-4-9-2-2 0-2 2-6 12-1 14 1 6-8 1-3-3-3-14-12-15-2 2-1 3-1 12-5 6-2 8-4 2-11 1-9 9-1 4-2 14 7 12 2 10-157 0-3-12 0-8-3-2-4 1-2 4-2 7-1 10-281 0 0-107 20 2 4-1 4-2 0-2-2-1-12-3-3-4-3-8-4-2-4 0zM140 638l-12 2-2 2-1 4 1 4 12 16 22-1 8-2 3-3 1-4-3-6-11-9-6-3zM200 669l-8 4-7 5-4 6 0 2 1 3 2 2 4 0 12-8 6-1 6 1 12 7 2 0 1-4-1-4-4-6-14-7-4 0zM234 556l-3 2 3 4 0 4-10 20 0 2 2 0 8-4 8-2 4-4-1-6-3-10-4-5zM324 564l-2 2 0 4 2 12 2 4 4 3 6 0 4 0 4-3 3-4 0-4-2-4-5-4zM378 626l-14 10-1 4 3 8-2 4-6 2-18-3-8 4-7 7 1 6 7 16 3 4 8 4 2 2-1 2-4 8 1 2 4 1 18-6 12 0 10 2 6 0 6-3 16-9 14-3 6 1 6 4 12-4 18 6 4-1 3-2 2-6 2-24-1-4-2-2-12-2-8-7-8 1-6-2-18-8-8-6-8 0-8 5-4 2-11-3-2-2 0-6-1-2-2-1zM596 642l-3 4-4 16 0 2 5 6-1 6 1 2 8 6 2 0 13-4 1-2 1-8 2-4 9-4 3-4 1-4-1-4-3-3-14-1-14-5zM156 678l-10 4-10-2-5 2-1 6 3 8 1 8 2 2 6 1 8 0 8-7 4-8 2-8-2-5-2-1zM236 604l-10 4-8 2-2 2 2 6 0 4-5 12-1 6 8 17 3 3 5 2 12-1 4-1 3-4 1-4-1-4-4-8 0-4 3-1 2 0 6 6 2 0 1-5 0-12-2-6-12-12-3-2zM334 610l-6 3-4 5 3 12 3 6 2 2 2-1 2-3-1-10 4-12-1-2zM555 694l3 0 0 1zM583 736l3 0 2 2 2 6-7 0-1-4z"/>
<path fill="#AAFF55" d="M44 548l173 0 2 10 4 10-1 6-4 10-2 6 1 6 3 2 10-3 8-5 10-3 2-3 2-4-1-6-9-19-4-4-9-3 455 0 0 94-6 1-3-1-5-5-6 0-5 3-3 6-8 7-10-4-2-5-4-3-14 1-12-5-10-1-4 2-6 15-2 3-2 0-4-2-5-8-3-3-34-4-6 2-4 3-5 12-4 20-7 7-4 1-4-4 0-8-1-2-5-6-7-12-7-6-10-2-8-6-6-1-6 4-4 0-6-8-10-3-8-7-20 4-2-1-6-7-2-1-10 0-6 2-14 8-10 2-6 2-1 2 1 3-2 0-8-10 0-3 0-4 4-8 1-4-3-2-6 0-12 6-4 4 0 2 0 4 6 10 4 14-1 2-3 2-4-2-5 8-1 6 8 16 4 12 6 6 1 2-3 6-8 10 0 16-2 14-172 0 1-4 1-2 4-1 10 0 1-1 0-2-3-6-12-1-6 1-2 2 0 2 1 12-99 0 0-105 22 3 14-3 2-1 0-2-1-4-3-4-6-3-7-3-7-7-4-1-10-1zM64 586l-5 2-1 2 0 4 2 2 18 9 6 7 2 0 12-1 2-2-1-3-4-4-4-6-3-1-10-2-9-7zM234 602l-10 4-11 0-1 2 2 12-2 4-4 2 0 6-2 4-2 0-8-2-14 1-4 1-4 5-4 2-6-2-10-6-8-1-18 3-3 1-2 4-1 6 7 12 0 10-1 3-7 7 1 8 2 10 1 4-3 5-5 3 1 4 2 0 6-3 10 2 10 1 10-1 4-2 4-7 5-16 0-10-5-10 14-6 10-1 2-1 3-8 5-5 4-3 4 1 10 16 4 3 4 2 6 0 12-2 10-7 2 0 22 4 8-1 2-4-1-6 0-10-1-4-2-2-8-2-4-2-14-16-12-10-6-3zM320 560l-3 4 0 4 1 12 3 6 5 5 8 2 6 1 4-1 8-8 4 0 14 4 4-2 2-3 0-4-2-2-4-2-8 0-6-6-6-3-16-3-10-4zM88 713l-2 1 1 2 1 1 1-1 1-2zM200 666l-10 5-11 11-2 6 2 4 3 2 6 0 4-2 8-5 4-1 8 2 13 8 5 1 2-2 1-3 0-10-2-6-3-3-20-8-4 0zM679 664l5-1 0 81-14 0-2-6-2-2-2-1-6 0-2-1-4-8-8-6-14-20-4-2-8 0-1-2 0-2 3-4 12-5 12-14 6-4 14 1zM410 698l4-1 2 0 10 7 8 3 8 0 6 5 12-3 6-5 8-1 4 1 2 2 2 4-2 14 8 12 2 8-96 0-3-12-6-10-17-3-4-2-2-3 1-4 2-2 9-2 16 2 4 4 2 0 8-10zM656 740l2 1 1 3-23 0 8-1 6 1z"/>
<path fill="#FFFF00" d="M44 548l167 0 2 10 4 8 0 6-6 18-6 10 7 14 0 5-2 2-8 3-32 4-10 4-16-1-18 3-5 4-3 13-8 2-8-2-4-5-1-6 2-4 13-18 1-6-1-4-16-16-16-5-10-6-8 1-18 12zM242 548l74 0 1 10-3 3-10-1-5 2-3 8-8 14 4 2 6-1 4 1 8 7 4 1 6 0 8 2 4 2 1 2-21 14-4 9-8 5-6-5-6-1-4-3-2 0-8 3-6-2-16-13-8-9 2-2 12 2 4-1 3-9 7-4 1-2-1-4-4-4-8-3-7-5-7-13zM374 548l310 0 0 80-12 1-8 2-18 4-28 2-12-4-18-2-8-5-14 6-4 0-10-6-22-3-4 1-6 6-6 1-24-10-12 10-6 2-18-5-12-10-2-2-2-10-7-8-3 0-11 4-7 11-2 0-7-5-5-1-18 5-16 9-20-2 0-3 5-8 3-14 2-4 4-1 10 4 6 0 4-2 5-7 1-6-5-8 1-4zM366 568l2-1 2 1zM44 600l8-1 5 5 0 4-5 2-8 1zM44 640l4 0 16 4 12 0 4 2 2 2 1 12 2 4 5 5 10 5 4 4 0 2-6 7-5 9-12 10-3 6-1 8 2 4 5 4 6 1 3 3 1 4-2 8-48 0zM263 662l29 2 12 2 4 4 9 14 4 16-7 8-3 8-3 4-10 4-10-7-6 0-3 1 0 8 3 6 6 7 1 5-114 0 0-10-5-10 0-6 4-3 2-3 4-12 4-2 10-2 6-3 4-1 20 9 6 0 6-1 2-2 2-4-1-18 1-6 6-3zM176 668l4 0 3 2-2 4-5 5-2-2-1-5 0-2zM650 678l6-1 10 2 10-1 8 5 0 21-5 2 0 2 5 2 0 34-8 0-6-13-9-7-1-2 1-2 5-1 3-3 1-6-10-7-6-1-8 2-2-1-7-7-1-4 3-6 5-5zM410 702l4 1 8 7 14 6 3 2 3 6 2 10 0 4-2 6-42 0-1-22 5-14zM469 712l3-2 2 0 2 2 0 6-1 4-5 3-8 0-2-1 1-6zM476 740l4 1 2 3-12 0 2-2zM131 742l3-1 2 1 1 2-7 0z"/>
<path fill="#FFAA00" d="M44 548l115 0 1 3 2 0 3-1 2-2 31 0 2 6 6 4 4 5 2 5 0 4-4 14-2 3-8 5-3 8 1 2 2 2 8 2 4 6 0 3-2 2-8 1-28 3-14 6-14-1-20 4-5 4-4 10-3 2-6-1-3-3 0-4 17-18 2-6-2-6-18-16-6-7-10-3-12-8-4 0-4 2-10 6-12 5zM250 548l22 0 0 4-10 7-4 1-6-6zM301 548l11 0 0 8-5 0-4-4zM379 548l292 0 1 2 2 1 2-3 8 0 0 72-12 2-10 4-16 4-22-3-10 1-20-3-10-6-10-4-4-7 1-4 2-4 0-2-9-6-8-9-4-1-2 1-3 3-4 10-9 19-8 1-6 4-4 0-4-4-4-10-4-1-16 5-10 14-4 2-2 0-4-2 0-2 4-12 0-4-3-2-11-2-5-8-3-2-14-2-10-5-16 1-3 2-2 8-3 4-16 5-6-2-2-3 0-4 9-14 1-6-4-6zM283 560l3-1 3 1-1 6-2 3-2 0-2-3zM290 592l6 0 6 2 13 8 2 2-3 3-10 3-12-2-4-3-3-7 2-4zM355 594l4 0 7 4 1 2 0 4-2 4-5 3-10 1 0-2zM44 642l0-1 6 1 15 6 4 4 2 8 3 6 6 6 8 6 1 2 0 12-3 3-12 9-3 14-4 10 2 8 4 8-29 0zM260 666l6-1 6 0 12 2 7 3 6 6 9 6 5 10 0 8-5 10-4 3-3-1-5-6-12 0-8-2-2 2-3 10-1 6 1 4 6 8 1 10-95 0 0-10-4-8 0-6 2-6 5-8 2-1 4-1 8-1 10 3 8-1 20 0 6-2 8-9 8-6 2-4 0-4-4-6-1-4zM408 710l2-1 2 0 8 7 12 5 3 3 0 4-9 5-1 11-20 0 0-24zM679 732l5 0 0 12-2 0-3-8z"/>
<path fill="#FF5500" d="M44 548l111 0 4 26 3 8 2 3 7 3 8 10 4 6-1 4-5 6-17 12-4 1-14-2-12 4-6 0-1-3 4-12-1-6-22-16-3-4-1-8-10-3-12-11-4-1-2 1-6 8-10 7-12 3zM382 548l68 0 0 7 2 2 2 1 4-4-1-6 187 0-2 6-7 8-1 6 2 4 8 6 2 6-1 4-5 3-3 3-1 4 2 4 7 10 3 8-2 2-6-2-10-3-6-4-8 2-8-2-8 1-4-2-9-6-2-4 1-4-1-2-5-1-12-5-12-12-4-2-2 1-4 4-8 15-8 10-6-2-6 1-6-6-4-1-12 4-10 0-6-4-6-8-2 0-8-2-19-2-5-2-1-2-1-10-4-3-6-1-4 1-6 7-4 2-6-2-6-8-4-1-8 1-2-2-4-9zM398 582l2 1 1 3-1 6-1 2-7 3-6 1-2-4 2-5 6-5zM295 598l3-1 4 1 2 2 1 2-3 2-2 0-4-2zM109 640l3-1 0 1 0 2-2 0zM44 642l9 2 5 4 4 16 5 16 1 16-3 10 1 8-4 14 0 16-18 0zM266 668l8 0 7 2 1 2-1 8-3 4-4 1-2-2-1-5-7-8zM286 686l4-2 6 1 4 3 0 2-2 2-10 3-2-3zM249 708l3-1 6 0 5 1 0 2-2 10 2 12-4 12-73 0-1-12-4-12 1-4 2-2 4-2 4 0 8 5 9-5 5-1 8 4 10-2 6 3 4 0 2 0 2-2z"/>
<path fill="#FF0000" d="M44 548l4 0-2 4-2 1zM55 548l74 0 1 3 4 1 4-1 2-3 9 0-3 6 0 4 2 4 6 5 5 17 13 18 0 4-1 6-6 8-5 5-4 0-14-3-10 3-4 0 1-5 7-8 3-6 0-4-1-4-2-2-2 0-18 0-10-5-3-3 0-4 3-10 0-5-8-1-6-3-3-3-4-10-3-3-5 1-10 10-3 10-6 7-14 3 0-17 12-3zM506 548l56 0-1 6 2 12 5 3 12 0 3 1 4 6 1 8-2 2-6 2-10-1-8-9-2-6-8-4-2 0-5 4-9 18-2 2-2 1-3-3-1-8-2-4-10-11-4 0-12 4-5-1-1-4 2-14 8 0zM564 548l16 0-4 5-4 1zM610 548l14 0-2 4-2 1-6-1-3-2zM44 644l6 1 3 1 1 2 6 30 0 6-3 16-7 4-2 4 2 4 7 4 0 4-1 3-12-3zM216 734l2 0 4 4 12 0 6-2 3 2-1 6-26 0-1-6z"/>
<path fill="#AA0000" d="M64 548l8 0-4 5-2-1zM90 548l31 0 4 20 1 8-4 4-6 8-8 1-3-3 1-4 6-12 0-4-1-4-13-5zM534 548l10 0-1 4 2 4-1 4-3 4-3 3-2 1-3-2-1-4 1-4 3-4zM129 578l3-1 4 0 2 1 0 2-4 1zM148 610l14 1 2 1 0 4-2 4-2 2-4 1-16-5 4-6zM44 688l0-1 5 1 2 2 0 4-1 2-6 5z"/>
</g>
</g>
<rect x="24.0" y="366.6" width="36" height="4.2" fill="url(#bs)" mask="url(#fadeL)"/>
<rect x="324.0" y="368.6" width="16" height="2.2" fill="url(#bs)" mask="url(#fadeR)"/>
<text x="182.00" y="273.30" font-size="8.00" text-anchor="middle" font-weight="bold">Vx LaVision4D [m/s], ppp = 0.02</text>
<text x="21.00" y="278.50" font-size="7.00" text-anchor="end" stroke="#000" stroke-width="0.07">0.03</text>
<text x="21.00" y="310.07" font-size="7.00" text-anchor="end" stroke="#000" stroke-width="0.07">0.02</text>
<text x="21.00" y="341.63" font-size="7.00" text-anchor="end" stroke="#000" stroke-width="0.07">0.01</text>
<text x="4.80" y="323.45" font-size="7.70" text-anchor="middle" stroke="#000" stroke-width="0.07" transform="rotate(-90 4.8 323.45)" dominant-baseline="middle">Z [m]</text>
<mask id="cP4" maskUnits="userSpaceOnUse" x="0" y="0" width="685" height="540"><rect x="366.1" y="276.1" width="318.7" height="95.6" fill="#fff"/></mask>
<g mask="url(#cP4)">
<rect x="366.1" y="276.1" width="318.7" height="95.6" fill="#0055FF"/>
<g transform="scale(0.5)" stroke="#000" stroke-width="1" stroke-opacity=".7" fill-rule="evenodd">
<path fill="#00AAFF" d="M728 548l644 0 0 198-644 0 0-104 4 0 4-2-4-4-4 0zM744 638l-3 2 3 2 8 1 2-1 1-2-7-3zM822 646l-2 1 1 3 1 2 8 6 6-1 8 1 4-2-1-6-3-3-6 0-8 1zM892 699l-1 1 1 2 1-2zM1034 656l0 2 2 1 2-3-2-1zM1198 728l0 4 2 5 8 5 8 4 2-2 1-4-1-10-10-2z"/>
<path fill="#00FFFF" d="M728 548l644 0 0 198-141 0-5-5-2-3-1-14 3-7 2-1 4 2 2-1 1-3-1-2-6 0-14 4-3-6-3-1-12 0-4 2-2 3-1 8 4 8 2 8-5 8-462 0 0-102 10-1 14 2 5-3 2-2-2-2-7-3-4 0-8 1-10-3zM846 636l-4 4-6 0-6 2-8-3-4 0-8 7-1 2 2 2 7 4 4 4 8 4 6 1 10-2 6-5 2-6-2-4-5-6zM880 690l-2 2 7 10 7 4 4 0 2-2 0-10-1-2zM910 647l-2 3 0 2 2 2 2-2 1-4-1-1zM1024 586l-1 0 1 1zM1026 684l-4 2-3 4-1 2 2 10 4 6 0 5 3-1 4-10 7-5 4-7-1-2-5-6zM1068 639l-2 1 1 2 1 1 4 1 5 8-3 7-4 4-8 2-2-7-2-2-8 1-1-1-1-4-2-2-8-2-2-1-4 3-4 4-2 6 1 2 7 7 4 6 6 3 3 4 7 2 2-2 0-4-6-6 0-3 8 1 6 7 10 1 8-2 4 0 6-4 1-4-4-6-1-6-4-4-4-7-2-2zM1256 670l-3 2 1 2 4 4 4 0 1-2-2-4-3-2zM1266 726l-6 2-2 2 1 2 9 3 1-7-1-2zM1274 738l-1 0 3 0zM832 688l0 3 2 2 2-1 2-2 0-2-2-2zM840 708l-2 1 0 3-3 2-1 2 2 1 2-1 1-4 1-2zM1032 726l-2 2 0 3 2 0 1-3zM1211 718l1-1 1 1-1 2z"/>
<path fill="#55FFAA" d="M728 548l644 0 0 198-8-12-2-1-2 1-4 6-2 1-6-2-1 1-4 6-52 0 3-6-2-11-3-3-5-10-6-4-4 0-8 3-1-5 2-6-5-1-2-2-5-11-1-7 8 3 2 3 2 0 6-7-1-6-3-6 2 1 2 4 4 1 4 2 2 1 6-4 8 1 8 7 10-4 6 2 8-2 4-3 1-2 0-2-11-4-4-5-2 0-4 4-3-1-1-2 8-5 2-3 0-4-4-4-4 2-4 4-6 2-9 14-9 3-2-1-7-8-2-4 1-4-1-4 0-6-1-2-2 0-6 5-4 1-2-4-2 0-4 1-6-5-2 0-6 1 0 11 2 4 6 3 5 1 1 4-4 6 0 4-4 1-2-1-1-2 2-6-3-2-4 5-2 1-4 0-6-2-2 2 1 2 4 6 0 2-5-1-10 9-6 0 0 6-1 2-5 5-6 1-9 14 0 4 6 10 0 4-2 10-130 0-1-4-6-1-4-6-4-1-2-4 0-1 2 0 4 3 1-2 1-8 2-4-2-2-4-1-2-3-1-10 3-7 6-6 4-1 6 2 12-2 8-7 2 0 3 3 3 0 20-7 3-5-1-10 1-4-1-2-9-4-3-4-6-1-4-3-4-2-6-5-4-1-8-3-11 7-1 4-2 1-6-3-22-3-2 1-1 12-3 2-4 4 0 4 1 2 13 10 2 4-10 2-2 2-3 8 2 16-2 6 3 5 6 3 2 4-2 5-2 1-6 0-2 2 0 6 3 4 2 4-291 0 0-101 24 1 18-7 3-1 0-2-5-1-10 0-10-2-8 0-12-2 0-6 9-7 0-2-3-2-6 0zM778 729l0 2 1-1zM850 628l-12 7-6 2-2 0-8-3-8 1-2 1-7 12 1 4 2 2 6 2 3 4 11 4 4 4-2 6 4 4-1 2-7 2-3 2-7 9-4 11 2 4 2 0 5-8 5-1 2 1 2 8-2 6-1 10 3 2 4-1 4-2 6-9 2-1 2 0 4 3 2 0 3-2 0-2-1-3-4 0-4-5 0-2 1-4-5-7 0-9-4-6 2-10 1-2 8-4 7-6-3-24-2-2zM872 686l-4 3 0 5 4 6 8 4 12 4 6 0 8-3 4-5 0-2-5-4-1-6-4-3-6 2-8 0zM898 575l0 1 3 10 5 6 3-6 0-6-3-2zM966 637l-2 2-4 10-6 6 0 3 2 3 4 0 6-2 5-3 1-2 2-8zM1022 580l-4 2-1 4 2 4 5 2 4-3 2-5-2-5zM1026 568l-1 4 3 6 6-4 9-4 0-2-3-1-6 2zM1066 623l-2 3 0 2 2 4 2-1 2-5-2-3zM1142 650l1 10 1 3 2 1 6-2 1-2-3-6-4-3zM1158 661l0 3 2 1 0-3zM1182 662l-2 10 0 3 4 2 6-1 0-2-3-6-3-5zM1192 675l-2 1 4 3 2 1 3-2 0-2-3-1zM1194 651l-2 1 1 2 5 2 1-2 0-2zM1200 664l-1 2 1 2 6 4 2-3 0-3-4-3-2 0zM1216 629l0 2 3-1zM1338 682l-2 0-1 2 1 2 4 1 5-3-1-3zM1276 698l-1 0 0 2 2 0zM1320 686l0 4 2 1 0-3zM1324 725l-2 3 2 5 4 0 8-1 1-2-5 0-4-4zM810 716l-1 0 1 1zM814 718l-2 0 4 8 0 4 4 4 4 0 1-2 0-6-3-2-4-6zM898 609l-1 3 0 2 4 8 1 10 3 8-1 8 1 8 2 2 3 1 8-3 6 0-1-8 2-4 11-6 4-1 5-5-3-3-8 3-8-3-5-5-21-15zM1018 632l-2 4 2 2 3 0-1-5zM1252 682l0-2 1 2zM1228 686l3 2 1 4-3 6 0 6-3 2-2 0-3-2 0-2 1-4-1-4 1-2zM1210 694l0-1 4 1 1 2-1 2-4-2zM1238 702l2-1 1 1-1 1zM1245 716l5-2 2 1 5 7-6 6-5 1-4-7 1-4zM1239 730l7 1 3 9-1 6-12 0 2-6-1-6zM1035 744l4 0 4 2-9 0z"/>
<path fill="#AAFF55" d="M728 548l183 0-2 8-5 4-1 2 5 8 2 0 4-1 1-3-3-8 4-6 1-2-1-2 456 0 0 106-8-5-2-5-2-1-2 1-7 6-1 2 3 4-5 3-2 7-4 2-5-4-1-5-9-3-3-10-2-1-6-3-4 0-4-4-6 1-8-5-4-5-2 0-16 0-2 1-3 6-5 4-4 1-8-3 0-4-8-5-8-1-8-2-10-5-8 2-1 1-1 5-4 0-6 1-2 6-4 5-16 3-8-1-5 1-5 2 0 5-2 0-6-12-6-2-6-5-1-4-3-2-6-2-4 2-2 3-6 3-2-6-3-2 3-4 1-8 4-6 2-6-3-3-6-2-10 7-8-1-4 2-2 1-1 6-2 2-11 5-8 0-2-1-2-4-4 0-2 2-1 6-5 1 0 11-2 3-4 2-6 0-10-3-4-12-5-10-1-8-2-2-2 1-1 3 2 10-2 6 1 8-1 12-3 3-6 0-4 6-6 4-4 4-4 1-2-4 1-10 0-4-7-4-4-10-6 1-4-4-8 2-8-5-4-1-7 3-3 0-8-6-4-1-16-9-1-4 6-6 5-8-1-10-7-7-9-5-3-4 4-4-4-3-2 0-2 7 0 6 6 12 5 12-2 10-5 6 0 12 3 12 4 6-2 8 1 6 4 7 8 3 8-1 6 1 3-2 6-12 11-2 4 0 1 2-1 10 2 3 4 2 6-1 8-2 6 3 12 0 6-4 6-3 4-5 4 0 2 1 1 8-2 16 3 3 1 3 1 18-6 12 3 4 1 6-3 6 1 10-4 6-171 0-2-6 2-4 0-4 5-4 6-9 8 2 5-1 5-8-1-8 1-3 2 1 6 6 12 0 14 3 8-4 8-7 0-2-5-8-1-5-4-3-4-6-6 5-8 3-16-1-8 8-2 1-8-1-4-3 1-22 13-10 0-4-3-10 0-4 3-3 6 2 2-3 0-4-1-2-13-3-7 1-17 8-8-2-12 0-2 0-2 2-3 8-3 6-1 6 4 10 5 8 2 3 3-1 3-7 2-1 2 1-2 11-2 2-4 2-2 2-1 4 0 6-2 4-9 3-2 2-5 9-1 9-12 0-8 3-1 2 0 8 4 8-1 2-4 2-42 0 0-99 24 0 22-7 6-4-1-2-5-2-16 0-10-2-8-1-1-1 6-10 0-8 5-4 2-2 0-2-4-3-2 0-6 6-4 0-8 3zM870 646l-2 2-1 4 1 3 4 2 5-3 1-4-2-4-4-1zM920 549l0 1 4 6 2 0 1-2-1-1-4-4zM1020 558l-2 0-2 3 0 5 1 8-4 12 1 5 4 4 6-1 4-2 4-6 2-8 2-2 10-4 3-4-1-2-5-2-9 0-6-4zM1330 624l-2 2 0 3 6 2 4 4 2 1 6-2 1-2-5-8-8-1zM1330 637l-1 3 1 2 2 2 3-6-3-1zM1092 616l2 4-2 4-2-2 0-2zM1184 650l2 2-2 2-2-2zM1224 650l6 2 2 2-2 8-2 3-10-3-1-2 4-8zM1355 664l3-1 6 2 4 0 4 3 0 58-7-6-3-6-6 2-12-2 0 3-6 1-7-4-3-7-7-3 8-8 0-6 1-2 4 4 12-2 3-2 5-6 0-2-3-6-2-4 1-2zM1150 670l2 0 1 8 1 3 2 1 4 1 1 1-4 8 2 4 7 7 4 2 2 0 5-5 1-4 2 0 2 2 3 4 1 4-1 2-9 0-2 1-1 3 2 10 7 8 0 2-3 6 0 2 4 2 0 4-120 0-3-15 4-2 6-7 0-2-3-4 0-2 6-8-1-10 4-1 8 1 6-7 8-2 6-5 7-4 5-4 2 0 2 4 2 1 8-7 4-2 2 0 4 6 2 0zM1134 712l-2 2 0 2 2 0 2-2 1-2zM1291 682l6 2 11 14 0 6-1 4-3 2-4 0-2-2-8-10-6-2-1-2 1-3 4-3 1-4zM1185 684l3-1 2 0 6 3-1 2-3 2-4 0-3-2-1-2zM1171 686l1 0 1 2 1 4-2 2-3-4 0-2zM1313 712l3-1 2 1 0 10-2 4-4 3-4 8-6 0-4-1 0-4 4-8-3-4 5-4zM798 724l2-2 2 1 3 3-1 3-2 1-2-1zM787 734l3-1 4 2 5 1 2 4-1 6-9 0 0-6zM813 744l3-1 6 3-10 0zM1310 744l8-1 2 3-11 0z"/>
<path fill="#FFFF00" d="M728 548l163 0-5 16-1 8 12 22-2 8-6 6 1 8-2 5-2 1-4-2-12 3-12-1-26 8-22 0-3 2-3 8-4 4-14 0 8 8-1 4-6 8 2 10 1 2 6 0 3 4-9 8-6 2 0 4-2 2-6-2-2 1 0 2 5 5-1 10-2 4-8 7-2 7-2 2-5 2 1 7-2 1-6 0-1 4-23 0 0-97 10-1 14 0 28-7 2-1 7-8 1-6-2-3-2-1-8 6-4-1-14 2-6-1-3-4 3-8-1-6 6-8-1-2-8-5-4 0-8 5-10 3zM776 656l0 6 4 5 2-1 0-2 0-6-2-3-2 0zM898 550l1-2 8 0-5 7-3-1-1-2zM937 550l3-2 432 0 0 87-10 0-5-9-7-3-4-5-4-1-10 0-10 6-4 4-8 3-12 0-6-4-14 0-8-2-4 2-4 5-4-2-8 0-8-4-8 0-14-7-14-3-3 1-5 7-6 1-4 2-2 2 0 2 3 4-1 2-2 0-2-4-4 0-4 2-4 6-8-1-3-1-5-5-4 1-3-2-1-2 0-2 2-1 6 3 3-2 0-2-7-4-2 0-4 4-4-1-3-3-1-6-4-2-4 2 0 2-2 2-4 0-4-2-1-2 4-4 1-2-1-12-3-4-4-4-2-5-4-1-12 2-6 5-6 2-4 10-1 5-5 4-6 1-4 0-6-8-4-3-4 4-6 2-5 4 0 14-2 4-3 1-6-1-2-2-2-8-6-10-2-8 2-4 10-5 4-7 2-6 2-2 10-3 8 2 4-1 3-2 0-4-1-2-6-4-10-1-10-3-14-8-2 0-14 2-2 2 4 6 4 10-1 8-2 2-1 1-2-3-1-4-3-5-6 4-8 4-9-1 1 3 14 3 4 7 10 0 2 1 3 4-5 8 1 8-3 14-2 2-10 1-8 5-4 1-4-3-2-6-8-6-6-2-6 3-2-1 0-4-1-2-3-2-8 3-4-1 1-8-3-4-8 1-6 7-10-2-3-2-1-2 16-20 3-6 2-14 4-6 1-6zM966 573l-3 5-3 2 0 1 2 0 9-3 0-4-3-1zM1060 552l0 4 1-2zM1254 606l0 4 2 1 2-3-2-2zM936 581l-1 1 3 2 2-2zM885 626l1-1 2 1 2 4-4 7-2-1-1-2zM989 646l3-1 2 0 1 1-1 2-4 2-2 0 0-2zM890 652l2 0 1 4 12 10 1 2-1 2-7 2-6 6-8 4-14-3-10 7-4 0-3-2 3-6 1-8 1-3 2-1 4 1 2 3 2 5 2 0 2-1 4-9 10-5zM945 656l1 0 2 6 4 3 6 2 10 0 6 2 8 0 6 3 4 1 18 14 1 7-1 7-4 7-4 3-7 1-6 10-3 1-6-1-9 6 0 2 3 6 1 10-135 0-2-4-1-2 3-5 8-8 2-1 6 2 4-2 3-2 3-7 8-4 12-2 10 1 6-1 15-9 1-4-5-8 1-5 10-8 4-9 6-3 6-2zM1109 682l3-1 3 1 5 6 1 4 4 4-6 6 0 6-3 6 3 4 11 5 8 1 12 4 2-2 0-2-2-5-2-2-4 6-4-3 1-2 3-5 8-5 2-5 4-1 5 4-1 6 4 4 1 8 8 6 1 2-2 2-4 1-6-2-6 1-6-4-2 1-8 7-6 8-52 0-2-4 1-6-4-6 0-4 3-6-2-4-1-6 1-2 8-7 6 0 1-1-2-4 1-2 6-2 5-8zM1372 682l0 31-2 0-1-3-1-6-2-2-6-2-3-4 3-10 2-3 6 0zM788 698l4-2 2 2-2 5-2 3-2 1-2-2-1-3 1-2zM1337 700l1-1 1 1-1 5-2-1-1-2zM1070 736l2 1 2 2 3 7-10 0zM1002 738l2-1 1 1-1 3-2 0zM1153 742l9 0 2 4-13 0z"/>
<path fill="#FFAA00" d="M728 548l160 0-4 12-5 10 1 6 5 6 2 8-1 5-2 1-4-2 2 6-1 2-3 2-1 4 5 6-12 4-8 0-24 9-30 1-2 2-4 7-2 2-3-1-2-2 0-4 2-6 5-6-3-4 1-6-8-10-2-2-4 1-2-3-2 0-16 1-14-6-6 1-10 6-8 0zM952 550l0-2 46 0-4 2-1 2 5 8-2 4-6 2 1 4-5 3-4 0-16-5-6 1-2-1 0-6-6-4-1-2zM1005 548l10 0-3 1zM1044 550l1-2 11 0-1 6-3 6-6 1-10-3zM1065 548l276 0 1 2 2 1 4-1 1-2 12 0-4 4 0 2 3 2 3 4-1 6-2 2 0 8 3 4 3 2 6 0 0 46-4 1-4-1-13-14-4-6-5-1-4 0-14 7-7 2-7 6-4 2-4 0-8-2-12-1-4-3-8-2-4-2-7-12 0-2 1-4-1-2-3-2-4-1-10 0-1 1 2 4 1 1 4 1 2 2-2 6-2 2-6 1-2 1-4 8-4 0-6-5-8 0-12-3-6 2-2 0-3-4-4-8-3-1-2 1-2 2 4 2 1 2-3 4-6 4-2 1-2-2-2-5-2-1-4-1-3 0 1 12 0 2-4 1-4-3-3-10-11 0-7-6-1-2 2-6-1-2-3 0-6 2-6-5-4-7-4-2-16 4-10 5-4 5-3 12-5 2-3-2-5-10-2-1-6-1-1-2 4-8 5-5 2-6 2 0 6 4 3-1 2-2-1-3-2-3-6-4-5-2zM1156 603l-2 1 2 1 1-1zM1354 562l-1 2 1 4 2 3 3-1 1-4-1-2zM1044 578l4 0 2 2 2 4 1 4-9 8-9 10 0 6 2 10-1 2-4 2-2-3-1-5-7-10 0-6 3-4 5-3 2-2 7-13zM968 584l6-1 8 2 8 3 3 4 5 3 2 1 4-2 3 0 1 2 0 2-3 4 0 8-3 10-2 2-8 3-8 5-2-1-3-5-7-5-14-6-14-9-5-12 1-2 14 1zM930 588l2 0 3 2-7 4-3 0 0-2 1-2zM759 648l9-1 4 1-2 11-4 5-1 4 1 6 4 6 1 4 1 2 4-2 2 0-2 2-4 0-2 6 0 6 2 8 0 4-10 17-6 1-4 3-4 7 0 8-20 0 0-95 10-2 14 0zM880 666l10-1 3 3 0 4-3 3-6 3-2 0-3-2-1-6 0-2zM942 666l4-1 12 4 8 1 8 4 4-2 3 0 5 4 4 0 10 6 3 2 4 6 0 4-1 3-6 0 0 7-2 2-8-2-2 1-5 9-6 4-3 5-9 5-1 2 1 4-1 8 2 4-119 0-4-6 1-3 4-2 4 2 4-1 21-18 10-4 9 1 6-2 12-6 8-3 6 2 1-2-1-2-4-2-5-8 1-2 7-2 0-6 6-6 2-6zM1107 686l5-1 2 2 0 3-2 2-4 0-2-4zM1369 692l3-1 0 4-4 1-1-2zM1110 700l2 1 2 5-2 4-4 4 1 2 9 10 6 1 1 9 4 10-29 0-2-3-4-3 4-6-1-2-4-2 0-4 5-6 0-2-4-6 0-2 4-4 6 0 3-4zM1110 727l-1 1 1 2 4 2 4 4 2 1 1-5-1-4-2-1z"/>
<path fill="#FF5500" d="M728 548l141 0 11 7 1 3-1 2-6 6-2 4 0 4 1 8-1 14-4 5-3 7-6 8-5 4-12 5-24 2-8-2-2-1 0-7-4-10-2-3-4-3-8-10-2-2-12 1-3-2-3-4-4-1-6 4-14 2-10 6-8 0zM971 548l16 0 1 8-8 9-2 1-4-2-1-2-2-4 2-4zM1069 548l266 0 0 6 2 2 5 2 0 4-2 2-8 1-6 5-6 2 0 2 8 18 2 1 2-1 3-4 3-1 6 1 6 3 6 1 2 2 0 2-1 4-3 2-18 1-14 7-8 0-4-3-2 1-2 6 0 4-2 1-3-1-1-4-6 0-10-5-6-1-2-1 4-5 0-4 0-2-4-3-14-2-8-4-6 0-8-2-2 1-1 4 3 10-1 4-5 2-8 2-6 2-4 0-12-4-6 1-2-3-5-16-3-1-2 1-2 4-6 2-6-2-6 0-4-4-6-1-6-1-8-4-10 3-8 0-6-6-6-2-16 4-8 4-2-1-1-4 3-8 0-2-1-2-15-8zM1152 569l-1 1 1 2 3 0-1-2zM1292 582l-1 0-1 2 5 4 1 2-1 2-5 4-3 4 1 2 4 2 4-1 4-6 8-2 5-5-3-5-5-3-7-1zM1041 582l4 0 1 2-1 4-7 9-4 1-1-2 1-2zM972 586l10 2 3 2-3 5-6 6-1 3 1 2 6 1 3 3 1 6-4 4-4 0-6-4-12-5-5-5-5-7-2-1 6-1 14-9zM1065 586l3-2 6 3 4 0 1 1-3 4 2 6-2 5-2 0-2-3-2-6-4-4zM1363 590l3-1 6 0 0 26-2-1-1-2 3-4-3-4-2-8-4-2-1-2zM994 600l2 0 1 2 1 2-2 4-8 0-1-2 0-2zM993 616l3-1 1 1-1 2-2 0zM732 652l10-2 22 1 2 1-4 12 0 12-3 14 1 4 3 6 2 10-4 4-3 8-8 4-4 4-1 8 1 8-18 0 0-6 4-2 1-2 0-4-5-2 0-77zM946 670l5 0 4 2-1 4 6 2 2 4-2 5-2 0-3-1-6-10-3-4zM970 680l6 1 10 4 4-2 4-1 4 2 1 2-11 11-8 14-6 3-1 6-2 2-27 7-1 5 6 8 0 4-71 0-2-2-6-1-8-3-1-2 11-10 10-1 8-6 8-4 22-7 4 0 4 2 2-1 5-7 0-2-2-4 1-1 8-6 4 1 10 9 10 3 4-1 3-7 6-4 1-2-2-2-8-2-2-4zM1105 744l3 0 2 2-6 0z"/>
<path fill="#FF0000" d="M728 548l27 0 1 3 2 1 2-4 90 0-1 4 1 4 11 8 0 2-4 8 0 4 3 4 5 2 2 2-5 12-1 8-3 8-4 4-14 6-10 0-10 1-8-1-1-2 0-4-2-12-3-5-7-5-4-12-1-1-6 1-6-4-6 3-5-7 0-6-5-2-4 0 3 6-1 2-8 5-6 1-8 3-5 7-9 0 0-32 4-2 1-2-1-4-4-2zM752 564l-2 4 2 2 4-2 2-2-2-2-2-1zM804 568l0 2 4-2-2-1zM826 555l-2 1 0 2 4 6 2-2zM832 576l-4 3-2 3 1 4 1 1 2 1 3-2 2-8-1-2zM848 570l-1 2 1 1 3-1 1-2-2-1zM1110 548l7 0-3 2zM1122 548l11 0 0 4-1 2zM1164 548l96 0 2 6-3 8 1 4 10 4 8 1 2 1-6 8-6-2-6 4-8-1-6 1-8-2-6 2-4 3-6-3-2 1-1 5 1 2 10 4 3 4 0 2-3 3-12 4-4 1-5-2-5-3-6-1-3-14-2-4-3-2-10-4-8 1-6-1-1-2 0-6 4-6 0-2-4-6 0-4zM1234 573l-2 3 3 0 0-2zM1263 548l15 0 1 4-7 6-2 0-5-4zM1293 548l38 0 0 6-1 2-6 7-8 0-6 2-10 1-6-6zM980 552l0-1 2 3-2 3-1-3zM1094 552l4 0 2 2-2 4-6 1-4-1 2-4zM1102 564l2 0 2 1 6 6 8-4 3 5 3 0 4-2 3-4 3-1 3 1 2 2 0 2-3 2-6 2-6 3-14-4-12 4-2-1 2-10zM863 574l1-1 2 1 0 2-2 1zM1157 578l3 0 2 2-2 2-2 0-4-2zM960 598l4-1 4 1 0 2-2 3-2 0zM739 652l13 1 2 1 2 4 1 8-1 9-1 3-4 4 1 2 3 6 0 10 2 8-3 8-4 4-8 2-8 4-6-3 0-67zM946 706l4-1 6 4 6-1 6 1 2 1-1 8-3 1-16 0-5-5 0-4zM936 710l2 1 1 1-1 2-2 2-1-2 0-2zM910 718l10 0 4 1 14 13 4 10 0 4-40 0-2-3-8-3-8-6 3-6 3-3 8-4zM880 734l3 0 0 2-3 1-2-1zM739 742l1-1 2 2 1 3-4 0z"/>
<path fill="#AA0000" d="M739 548l6 0-1 2-4 2-1-2zM765 548l12 0 7 12 13 6 0 6-2 4-3 2-4 0-8-8-10-7-7-3-1-4zM804 548l1 0-1 3zM1192 548l3 0-1 2-2 0zM1208 548l37 0 0 4-3 2-2 4 1 4 3 4 0 3-2 2-2-1-4-4-7-4 1-3-6 3-4 1-4-2-8-9zM1216 550l0 2 3 0 1-2-2-2zM1247 552l5-2 2 2 0 2-4 1zM1178 560l3 0-1 2zM1200 562l2-1 2 0 2 3-1 2-3 1-2-3zM728 568l0-1 2 1 2 2-1 4-3 4zM835 568l2 0-1 2zM737 574l1-1 7 3-5 1zM1210 576l2-1 4 6 1 3-1 2-4 0-2-2zM804 578l4-1 2 2 4 5 1 6 1 1 6 0 10 1 4 6 6 3 3-1 1-5 2-1 2 1 2 1 0 2-4 4-2 6 1 2 7 1 1 3-2 2-14 6-9-1-10 2-4-1-3-14-5-12 3-6-1-2-6-2-3-2 1-4zM1206 596l2-1 8 0 6 7-3 2-5 0-3-2zM730 660l6 1 4 3 0 10 5 6 3 10-2 2-14 1-4 4 0-37zM739 700l1-1 2 1 0 2-2 0zM907 726l13-1 4 1 6 6 1 8 5 6-21 0-1-8-4-4 0-6z"/>
</g>
</g>
<rect x="366.1" y="367.5" width="36" height="4.2" fill="url(#bs)" mask="url(#fadeL)"/>
<rect x="668.2" y="369.5" width="16" height="2.2" fill="url(#bs)" mask="url(#fadeR)"/>
<text x="525.15" y="273.30" font-size="8.00" text-anchor="middle" font-weight="bold">Vx LaVision4D [m/s], ppp = 0.16</text>
<mask id="cP5" maskUnits="userSpaceOnUse" x="0" y="0" width="685" height="540"><rect x="24.2" y="391.0" width="316.6" height="94.7" fill="#fff"/></mask>
<g mask="url(#cP5)">
<rect x="24.2" y="391.0" width="316.6" height="94.7" fill="#0000FF"/>
<g transform="scale(0.5)" stroke="#000" stroke-width="1" stroke-opacity=".7" fill-rule="evenodd">
<path fill="#0055FF" d="M44 778l640 0 0 196-640 0 0-99 10 1 2-4-2-5-10-6z"/>
<path fill="#00AAFF" d="M44 778l640 0 0 196-640 0 0-97 12 1 2-2 0-4-4-11-5-5-5-2z"/>
<path fill="#00FFFF" d="M44 778l640 0 0 196-122 0-2-1-2 1-24 0 3-8 7-10 2-2 6 0 3-2 4-16-3-4-8-3-4 0-4 5-2-1-4-6-8-3-5 2-3 5-6-5-2 2-4 10-1 6 0 6 7 16 1 8-469 0 0-95 12 1 3-2 2-6-2-6-5-10-4-3-6-1zM160 875l-6 4-6-1-4 1-6 6-4 3 14 0 12-5 2-5zM336 878l0 2 2 10 2 2 4-2 2-4-1-6-5-4zM408 864l-5 4-1 4 4 12-2 7-2 2-2 1-12-1-2 2-1 3-2 18 2 4 5 4 4-1 9-7-1-1-4-2-2-3-1-6 1-4 2-1 2 1 4 5 2 0 6-9 6-1 4-5 1-8-2-6-4-6-3-7-2-1zM532 903l-2 3 0 1 3-3zM574 888l0 2 4-2-2-1zM614 882l-13 4-2 4 1 5 2 1 2 0 13-8 2-4-1-2zM610 958l-1 0 0 2 3 3 2-2 1-3z"/>
<path fill="#55FFAA" d="M44 778l640 0 0 196-67 0 4-12-1-4-4-4-4-1-6 0-12 9-14-4-8-6-1-10-7-20-4-3-14-1-3-2 0-2 1-1 8-5 4-6 0-2-6-2-2-2 1-8-7-1-4 1-2 1-11 13-6 14-10 6-6 6-2 16 0 8 1 4 6 10 1 8-146 0-3-3-2 3-16 0-1-14-3-3-2-1-6 1-2 2 0 5 3 10-287 0 0-93 12 1 4-1 3-3 1-8 0-4-8-12-6-3-6-1zM164 866l-12 5-10 1-8 2-8-1-2 3-1 8 3 8 4 4 4 1 26-7 8-8 4-10 0-2-2-3-2-1zM192 920l-2 4 2 2 10 0 12 5 4-1 2-2 0-2-2-1-8-4-14-3zM206 833l-4 3-1 4-1 12 2 12 7 6 1 4-2 10-4 6 2 2 2 0 12-3 6 0 12 4 4-1 3-26 3-12 0-6-8-2-8 2-17-14-5-1zM346 796l-12 4-3 8 0 4 1 1 2 0 8-4 10-1 6-4 0-4-2-4-4-1zM408 856l-15 8-3 7-2 2-16 1-10 2-8-1-4 0-12-3-6 1-4 3 0 2 5 8 1 11 2 3 20-3 10 3 6 6 0 6-2 2-4 2-8-1-12-3-2 0-4 4 0 6 12 8 12 0 14 6 2 0 4-4 8 1 5-1 17-15 16 1 6 6 2 0 2-2 2-6 2-2 4-1 6-3 8 1 2-1 3-6-2-6 0-2 7-5 4-7 0-6-2-6-3-2-3 0-24 4-14-7-5-5-5-6zM624 872l-10 6-8 2-14-1-12-4-10 2-8 1-3 2-3 4 4 10-2 5-2 1 2 0 8 6 5 12 5 3 2 1 3-2 2-8 7-9 2 0 10 7 8-2 12 4 4 0 4-3 4-4 3-5 0-2-2-16-1-4-6-6zM156 950l-4 4-2 4 2 1 6-5 1-4-1-2zM332 835l-1 3 0 4 1 3 2 0 2-1 1-4-2-4zM597 972l1-1 2 1 1 2-5 0z"/>
<path fill="#AAFF55" d="M44 778l640 0 0 92-11 4-11 8-2 0-12-1-8-6-8-8-4-2-4 0-12 10-6 2-14-5-12-5-10 5-8 1-10 5-16 3-6 8-9 11-5 11-5 3-3 4-10 4-4 4-1 2 2 6-4 14-1 8 2 4 8 8 3 6-133 0-1-16-7-10 0-3 2-2 10-1 6 5 4 1 8-7 10-1 9-6 17-6 8 2 8 5 8-1 10 5 10 0 2-1 2-4 0-4-2-8 6-9 4-2 8 1 10-1 6 2 2-3 1-6-4-10-2-8-3-4-2-1-2 1-3 8-2 2-3 0-2-3-3-7-1-16-2-3-6-3-4-1-10 4-16 3-4-1-7-5-1-4 1-6-2-2-7-2-12 4-10-2-3 0-5 6-20 8-14-4-6-3-4-1-3 2 1 8-2 4-10-1-14 5-6 0-2 2-2 4 0 4 2 4 10 2 2 2 1 6-2 10 5 2 2 2-3 14-5 10-3 18 0 10 4 12-182 0 3-4 15-14 5-6 1-16-3-10 6-8 1-4-8-18 4-6 3-2 8 3 16 9 32-1 5 1 5 4 6-5 4-5 3-10-2-16 6-18-2-4-19-4-18-11-14-1-4 1-3 5 0 4 2 8-1 8-8 22-2 1-2-1-4-4-4-7-6-2-6 0-18 4-18-2-5 3-5 10-7 6-1 2 6 4 6 8 12 6 6-2 3 2 0 10 9 26-1 6-7 14 0 6-3 8-16 0-1-4-3-6 2-12-3-3-4-1-6 3-3 7 0 6 4 10-67 0 0-92 18 2 4-1 3-3 4-12-2-6-13-10-6-3-8-2zM66 828l-3 2 0 4 6 10 1 1 4 0 2-1 2-4 2-10-2-2-4-2zM240 810l-6 8 1 2 1 1 2 0 2-3 2-5 0-4zM294 798l-8 4-1 2 7 1 5-1 3-2-2-3zM346 792l-13 4-8 8-2 4-1 4 0 4 2 2 4 2 6 1 8-5 10-3 14-9 14 0 4-1 2-3 0-4-2-4-4-2-4 0-10 3-10-3zM236 904l-20 11-4 0-8-4-6 0-12 9-2 4 1 2 3 2 14 2 10 5 6 0 4-1 6-6 5-10 11-8 1-4-3-3-4-1zM294 960l1 2 1 2 2 0 3-2-3-2zM332 827l-6 5-1 4 3 12 2 3 2 1 4-1 4-3 3-8-1-4-4-6-4-3zM660 884l0-2 2 0 14 4 5 2 3 3 0 83-21 0 0-8-1-4-14-5-4 2-3 3-2 6 2 6-6 0-1-4-8-16-2-4-4-3-16 0-12 5-4-1-6-5-2-4 0-6 2-2 4-1 4 0 6 3 8 1 8 3 3 0 2-6 3-8 8-6 12-16 5-4 0-2-2-10 1-2 2 1 4 3 2 0 4-2z"/>
<path fill="#FFFF00" d="M44 778l173 0 3 1 2-1 9 0 1 8 3 10 0 6-5 11-4 5-4 3-12 0-14-6-5 1-3 7-6 7-2 4 1 4 5 6 2 4-1 4-4 4-8 4-27 4-18-2-6 0-5 4-4 8-9 2-8 7-5-3-10-12 1-6-3-8 7-14 2-10-2-4-6-2-8-2-6 2-10 5-14 0zM249 778l79 0 3 16-5 3-4 2-6 1-4-1-12-5-4-1-4 1-19 8-5 3-4 6-3 9 1 3 4 3 11-12 5-4 12-2 8 2 2 2 4 6 8 8 1 10 9 20 0 4-1 2-3 1-8 1-18-2-18-6-10 2-2-2-1-6-4-10-3-2-4-1-10 1-6-1-3-3-1-2 0-2 6-5 6-9 9-10 4-8-1-4-8-9zM390 778l294 0 0 84-4 1-14 10-8 2-16-9-12-10-4-2-4 1-4 2-8 11-4 3-6 0-6-2-5-3-7-5-4-1-8 2-6-1-8 8-6 2-8-3-4-8-4-4-2 0-3 2-3 6-5 4-3 6-2 1-4-1-8-4-10 2-2-2-2-10-6-7-12-2-12 4-6 0-3-3-4-6-3-2-6-2-14-2-6-5-8 3-10-3-8 0-8 3-8-1-8 1-8-1-10 2-2-3-3-8 0-4 1-1 12-8 2 0 10 5 8-10 14-4 2-4-4-10 1-8zM564 823l-5 3-2 2 2 2 3 1 12-1 10 3 2-1 1-2 0-2-2-2-5-2-10-2zM44 884l12 1 14 5 12 1 5 3 2 4 0 4-11 11 0 9 2 6 7 4 3 4 2 6-1 6 6 12 4 14-57 0zM270 890l8-1 10 2 5 3 9 8 4 8 18 1 3 1 2 2 0 6-6 10-4 10-3 18-6 1-8-6-4-1-14 5-8-3-3 0 1 6 5 4-2 10-121 0 2-6 2-4 4-3 8-5 3-2 3-8 0-12 2-3 4-1 8 1 22 8 6 0 6-2 4-3 7-12 8-6 4-4 1-4 0-8 2-5zM173 894l1-1 4 1 9 8 0 2-9-2-4-4zM662 904l8 1 5 5 9 2 0 19-11 3-7 6-10-1-4-2-6-6-6-3-2-6 0-4 6-11 4-1 8 0zM136 924l4 0 2 2 2 8 0 4-1 2-9 4-10-4-1-2 1-4zM419 938l7-2 6 0 4 1 3 3 1 2-1 6-7 15 0 3 2 4 8 2 1 2-57 0 2-12 4-7 6-6zM133 946l1-2 4 2 2 1 2 3-2 4-10 9 0-3 0-6zM669 962l3 0 6 3 6 0 0 9-17 0 0-8 1-4zM474 972l3 2-6 0z"/>
<path fill="#FFAA00" d="M44 778l148 0-2 4-4 4-5 2 7 6 4 2 8 1 24-3 4 2 0 4-3 12-5 2-14 0-16-6-5 2-2 2-1 8-5 6-2 6 0 20 0 4-4 2-5 1-20 2-20-4-5-11-9-7-5-9-7-5-7-3-13-3-6 0-16 7-14 1zM260 778l12 0 0 6 6 8 0 4-6 1-3-1-1-8-6-6zM293 778l24 0 1 8 4 8-8 1-10-3-9-10zM395 778l289 0 0 66-6 6-8 4-1 2 0 6-1 2-4 2-4 0-4-3-8-1-4-2-3-4-3-9-6-3-4 1-24 13-4 5-4 1-4-2-6-6-10-6-6-3-8-2-2-1 0-4 6-4 8-1 12 4 5-3 3-4 1-6-2-4-21-5-8 1-10 3-4 3-4 12-2 6-2 3-2 0-2-1-5-6-7-5-4-1-12 5-24-4-8 1-2 2-1 2 5 6-2 2-11-2-2-2-3-5-2-1-10 2-14-3-8 0-2-3-5-18-3-3-4 0-2 1-1 10-3 7-12 1-8-1-5-3-2-8 3-3 14-4 3-3-6-14zM664 853l0 1 0 1 3-1zM287 812l5-1 3 1 2 2 2 10 13 24 1 4-1 4-4 1-12 0-16-6-3-3-3-18 0-6 7-8zM250 818l2-1 1 1-3 5-2 1 0-2zM357 822l3 0 4 4 0 2-2 3-6 1-2-2-1-4zM44 886l12 1 10 5 12 4 2 2 0 4-6 10-1 8 2 8 4 8 1 12 8 14 1 12-45 0zM267 894l11-1 8 1 7 6 3 10 3 4 3 1 20-1 4 2-1 4-7 9-4 3-6-1-4 0-6 8-8 5-4 6-14 0-13 6-4 6 7 12-99 0 1-4 2-3 9-3 3-4 7-26 3-1 5 1 9 4 6 5 4 1 18-3 8-5 1-8 3-5 6-2 8 1 4-2 2-4-4-3-1-3 0-10 4-4zM270 913l-1 1-1 2 4 1 2-1 0-2zM683 920l1 0 0 3-2-1zM421 950l1-2 2 2-2 4-2 6 1 14-30 0 2-10 3-4 20-5z"/>
<path fill="#FF5500" d="M44 778l124 0-3 12-7 10-6 14 2 4 2 2 10 7 4 15 2 12-2 2-6 2-14 1-20-6-13-17-4-8-9-9-2-1-12-1-8-4-8 1-16 9-14 1zM402 780l1-2 9 0 2 3 2 0 4-3 171 0 3 10 8 9 8 4 2-2 4-13-1-8 46 0-7 14 1 14-2 4-19 14-2 1-3-1-3-4-4-1-14 0-10-5-6-1-10 2-12-3-20 5-14 11-12-5-4 0-8 5-8 2-28-3-2-1-4-9-4-3-10 1-6 5-16-1-4-5-4-8-4-3-4-2-10 1-4-2-4-3-1-3 0-6zM676 798l3 0-3 2zM286 818l2 0 2 2 7 12 7 10 1 6-3 2-4 0-5-2-9-7-4-6-2-7 1-4zM661 822l1-1 10 3 12-1 0 15-10 3-3-1-11-10-2-4zM610 834l4-1 2 1 0 4-4 7-2 1-4 0-4 0-3-2-1-2 2-3zM44 890l0-2 12 1 17 11 0 4-5 12 0 4 4 18 2 14 3 12 3 5 2 5-38 0zM265 898l5-1 10-1 5 2 2 2-3 2-8 0-10 3-2-1-1-2 0-2zM308 918l8-2 5 2-3 4-6 2-6-2 0-2zM267 926l5 0 5 4 3 6 0 6-1 2-3 2-16 4-10 6-3 4-1 4 1 10-42 0-1-10-4-6 3-2 7-2 10-5 10-1 17-4 3-4 1-8 11-3zM188 946l2-1 2 1 2 8 0 4-4 6-2-1-2-7 0-6zM190 966l0-2 2 0 6 4-2 6-7 0z"/>
<path fill="#FF0000" d="M44 778l117 0-3 10-6 6-3 6-2 12 0 12-4 6 1 2 20 12 4 6 0 4-6 3-11-1-19-6-5-8-4-10-7-8-6-5-6-10-4 2-6 1-6-4-2-6 0-10-2-3-2 0-7 7-1 6-1 4-9 12-6 3-14 1zM469 778l12 0 1 4 5 2-7 2-6 8-6 2-7 0-3-3-8-3 0-2 0-2 2 0 8 7 6-2 4-5zM531 778l45 0 4 13 5 7 0 2-7 5-16 1-8 3-1-1-1-6-2-2-4 0-3 4-5 14-2 2-4 0-3-2-1-4 0-4 5-10zM44 892l14 1 9 7 1 4-5 16 3 22 0 8-2 3-12 7-1 4 0 6-1 4-6 0zM263 936l5-2 4 1 2 3 0 2-4 2-8 1-2-3zM230 954l6-1 4 1-2 6 1 14-18 0 5-16z"/>
<path fill="#AA0000" d="M88 778l55 0-6 6-1 4 0 4 4 5 2 7-1 14-1 2-2 2-4-2-4-6-6-5 0-9-12-5-4-1-4 1-3 3-3 5-2 1-2-1-1-3 2-6-1-2-6-10zM137 838l5 0 6 2 8 6 6 3 2 3-2 2-4 0-18-6-6-6 0-2zM44 896l0-1 2 0 14 3 4 6-2 7-2 1-16-3zM44 926l0-1 2 3 0 2-2 1z"/>
</g>
</g>
<rect x="24.2" y="481.5" width="36" height="4.2" fill="url(#bs)" mask="url(#fadeL)"/>
<rect x="324.8" y="483.5" width="16" height="2.2" fill="url(#bs)" mask="url(#fadeR)"/>
<text x="182.50" y="388.20" font-size="8.00" text-anchor="middle" font-weight="bold">Vx DLR [m/s], ppp = 0.02</text>
<text x="21.20" y="393.40" font-size="7.00" text-anchor="end" stroke="#000" stroke-width="0.07">0.03</text>
<text x="21.20" y="424.97" font-size="7.00" text-anchor="end" stroke="#000" stroke-width="0.07">0.02</text>
<text x="21.20" y="456.53" font-size="7.00" text-anchor="end" stroke="#000" stroke-width="0.07">0.01</text>
<text x="4.80" y="438.35" font-size="7.70" text-anchor="middle" stroke="#000" stroke-width="0.07" transform="rotate(-90 4.8 438.35)" dominant-baseline="middle">Z [m]</text>
<text x="55.86" y="495.90" font-size="7.30" text-anchor="middle" stroke="#000" stroke-width="0.07">-0.04</text>
<text x="87.52" y="495.90" font-size="7.30" text-anchor="middle" stroke="#000" stroke-width="0.07">-0.03</text>
<text x="119.18" y="495.90" font-size="7.30" text-anchor="middle" stroke="#000" stroke-width="0.07">-0.02</text>
<text x="150.84" y="495.90" font-size="7.30" text-anchor="middle" stroke="#000" stroke-width="0.07">-0.01</text>
<text x="182.50" y="495.90" font-size="7.30" text-anchor="middle" stroke="#000" stroke-width="0.07">0</text>
<text x="214.16" y="495.90" font-size="7.30" text-anchor="middle" stroke="#000" stroke-width="0.07">0.01</text>
<text x="245.82" y="495.90" font-size="7.30" text-anchor="middle" stroke="#000" stroke-width="0.07">0.02</text>
<text x="277.48" y="495.90" font-size="7.30" text-anchor="middle" stroke="#000" stroke-width="0.07">0.03</text>
<text x="309.14" y="495.90" font-size="7.30" text-anchor="middle" stroke="#000" stroke-width="0.07">0.04</text>
<text x="182.50" y="504.60" font-size="7.70" text-anchor="middle" stroke="#000" stroke-width="0.07">X [m]</text>
<mask id="cP6" maskUnits="userSpaceOnUse" x="0" y="0" width="685" height="540"><rect x="366.1" y="390.9" width="318.7" height="95.9" fill="#fff"/></mask>
<g mask="url(#cP6)">
<rect x="366.1" y="390.9" width="318.7" height="95.9" fill="#0000FF"/>
<g transform="scale(0.5)" stroke="#000" stroke-width="1" stroke-opacity=".7" fill-rule="evenodd">
<path fill="#0055FF" d="M728 778l644 0 0 198-644 0zM1210 959l-3 3 1 6 2 3 6 4 2-2 1-3-1-10z"/>
<path fill="#00AAFF" d="M728 778l644 0 0 198-141 0-5-5-2-3 0-8-1-6 1-8-2-2-4 0-3 2-2 4-3 1-3-1 4-6-1-2-2-1-4 3 1 6-5 6-2 4 2 6 9 10-481 0 0-104 5 0 3-2-4-4-4-1zM744 868l-3 2 2 2 7 1 4-1 0-2-3-2-3-1zM822 876l-2 2 1 2 1 2 6 4 16 2 2 0 2-2-1-6-3-3-6 0-6 1zM890 930l1 2 2 0-1-3zM1034 886l0 2 2 1 2-1 0-2-2-1z"/>
<path fill="#00FFFF" d="M728 778l644 0 0 198-136 0 3-6-2-6 1-2 2-1 4 0 2-1-2-4-2 0-6 3-4 1-3-2 0-2 5-2 1-2 1-10-2-4-10-1-3-3 0-12 5-6 0-2-4-3-4 2-1 3 0 10-2 4-7 3-4 5-12 4-1 2-2 8 7 16 0 2-4 2-1 4-463 0 0-102 10-1 14 1 5-2 1-2-2-2-8-3-10 1-6-2-4-1zM818 869l-8 7 0 3 6 3 6 5 6 3 18 0 4-2 3-4 0-4-1-4-6-6-10 0-6 2-8-3zM880 921l-1 1 0 2 9 10 6 2 2 0 2-2-1-10-1-2zM910 876l-2 4 0 2 2 1 2-1 1-4-1-2zM1024 815l-1 1 1 1 1-1zM1068 869l-1 1 0 2 1 1 5-1zM1074 872l-1 2 4 8 0 2-5 8-2 1-8 2-4-9-8 1-1-1-1-4-2-2-10-3-6 5-4 8 1 2 8 8 3 5 6 3 2 4 6 1 4-1 1-2-2-4-5-4 0-3 9 1 4 6 3 2 8 0 8-2 5 0 5-4 1-2-4-8-1-6-4-4-6-9zM1224 901l-2 3 5 8 3 2 4-1 1-3-2-6zM1242 914l1 2 2 0zM1256 900l-3 2 1 2 4 4 4 0 1-2-2-4-3-2zM840 937l-2 2 0 3-2 2-1 2 1 0 4-6zM1026 914l-4 2-3 4-1 2 2 10 3 6 0 4 1 1 3-1 3-7 8-8 4-7-1-2-5-6zM1234 925l-2 3 2 1 3-3-1-1zM1032 956l-2 2 0 2 2 1 1-3z"/>
<path fill="#55FFAA" d="M728 778l644 0 0 198-8-12-2-1-2 1-4 6-2 1-6-2-1 1-4 6-92 0 0-4 3-4 1-4-3-4-2-7-2-3 0-2 2-1 4 3 8-2 2 2-5 6-2 4 2 2 9 4 3 4 3 0 2 0 2-2 1-4-2-2 0-4 5-10-2-4-4-3-10 4-1-5 2-6-5-1-2-2-6-9-1-6-4-6 3 0 4 4 6 2 2 3 2 0 6-7-1-6-3-4 0-3 2 1 2 5 4 0 4 3 2 0 6-3 8 1 8 8 10-5 6 2 9-3 4-4-1-2-11-4-3-4-2-1-4 3-2 0-2-2 8-5 2-3 0-4-4-4-3 2-5 4-6 2-9 14-9 2-2-1-7-7-2-4-1-8 1-6-1-2-2 0-6 4-4 2-4-5-4 1-6-4-10-3-6 6-4 0-6-1-2 0 0 3 2 2 6-3 8 3 2 2 1 5 1 2 8 3 5 1 1 2-4 8 0 5-2 0-3-1-1-2 1-6-3-4-4 1-4 1-6-2-6 3-1 3 0 8-5 7-6 6-1 7-5 4-8 3-9 13 0 4 7 10 0 4-3 10-130 0-1-4-6-1-4-7-4-1-2-3 0-2 2 0 4 3 1-1 1-8 2-4-2-2-4-1-2-3 0-10 2-8 5-4 3-2 8 2 14-2 3-4 3-3 3 1 1 2 5 0 19-8 3-2 0-2-1-10 1-4-1-2-9-4-3-4-6-1-8-5-6-5-4-1-8-3-11 7-1 4-2 1-6-3-22-3-1 1 0 2-1 10-4 1-4 5 0 4 1 2 9 8 6 4 1 2-3 1-4 0-4 1-2 2-3 8 2 16-2 6 3 5 6 3 2 4-2 5-2 1-6 0-2 2 0 6 3 4 2 4-291 0 0-101 24 1 21-8 0-2-3-1-10 1-12-4-10 1-10-2 0-6 5-3 5-4-1-2-3-3-6 1zM850 858l-12 7-6 2-4 0-6-3-8 1-8 11-1 4 1 2 8 3 5 5 17 5 12-3 8-6 2-4-3-12 0-10-2-2zM898 804l0 2 4 10 2 3 2 1 2-2 1-2 0-6-3-2zM966 865l-2 4-1 5 1 2 2 1 2-3 0-8zM1026 798l-1 4 3 6-8 2-2 2-1 4 1 4 4 2 4-1 3-3 1-4-2-6 8-5 5-1 2-2 0-2-3-1-6 1zM1066 852l-2 4 0 2 2 3 2-1 2-4-2-3zM1142 882l1 8 1 3 2 1 6-2 1-2-1-2-4-6-4-2zM1158 891l-1 1 1 2 2 1 0-3zM1182 891l-2 11 0 3 4 2 6-1 0-2-3-6-3-5zM1192 904l-2 2 4 3 2 0 3-1 0-2-3-1zM1194 880l-2 2 1 2 5 2 1-2 0-2zM1200 893l-1 3 1 1 6 4 2-3-1-4-5-2zM1216 859l0 1 2 0zM1336 912l-1 2 1 2 2 1 5-1 2-4-3-2zM1274 928l0 2 2 1 1-1 0-2-1-1zM1290 963l-3 3 1 3 2 0 1-1 1-2zM1320 915l0 4 2 1 0-3zM1324 954l-2 4 2 4 4 1 8-1 1-2-5 0-4-5zM836 914l-8 2-3 4-7 5-2 3 0 3 2 0 6-2 4 0 3 9-2 6 1 4 2 3 2 1 4-1 2-1 3-6 7-4 0-2-2-6 1-4-1-2-5-4-3-7zM898 840l-1 2 0 2 4 8 1 10 3 8-1 8 1 8 2 2 3 1 8-3 6 0-1-8 2-4 15-7 4-3 1-2-3-3-8 2-4-2-4 0-5-5-11-8-10-6zM1018 861l-2 5 2 2 3 0-1-5zM820 960l-2 2 3 0zM900 916l-6 1-8 0-14-1-4 4 0 4 2 3 6 2 7 5 7 3 6 1 4 0 7-4 4-4-1-2-6-5-1-5zM1035 974l4 0 4 2-9 0z"/>
<path fill="#AAFF55" d="M728 778l183 0-2 8-5 4-1 2 5 7 2 1 4-2 1-2-3-8 4-6 1-2-1-2 456 0 0 106-8-5-2-5-2-1-2 1-7 6-1 2 2 4-4 2-2 8-4 1-5-3-1-6-9-2-3-10-2-2-6-2-4 0-4-4-6 1-2 0-2-3-6-3-2-3-2-1-16 0-2 1-3 6-5 4-4 1-8-3 0-4-8-5-8-1-8-2-10-5-8 2-2 7-4-1-6 1-3 8-3 3-16 3-8-1-4 1-5 2-1 5-2 0-6-12-6-1-6-6-1-4-5-4-6 1-4 4-6 3-2-6-3-2 3-4 1-8 4-6 2-6-3-4-6-1-10 7-8-1-4 1-2 2-1 6-1 2-12 5-4 0-6-1-3-4-3 0-2 2 0 6-6 2 0 10-3 4-3 1-8-1-8-3-4-11-5-10-1-8-2-2-2 1-1 3 2 10-2 6 1 8-2 13-2 2-6 0-4 6-12 6-2 0-1-3 0-12-7-4-4-11-6 1-2 0-2-3-2 0-6 1-8-4-4-1-6 3-4 0-8-6-4-1-20-11-2 0-3 2-2 4 1 11 3 11 4 6-2 8 1 6 1 4 5 4 6 2 14 0 4-2 6-12 10-2 4 0 2 2 0 8 2 4 6 0 10-1 6 4 10 1 4 0 8-6 6-8 4 0 2 2 1 8-2 16 4 6 1 18-6 12 0 2 3 2 1 6-3 6 1 10-4 6-194 0 2-3 8 2 2-2 6-15 10-4 6-8 8 2 4-2 3-4 1-8 2-4 6 2 6 1 16 7 6 0 7-2 9-8-1-4-3-4-2-7-4-3-4-6-6 6-8 2-16-1-8 8-8 0-6-3 0-4 2-14 0-4 12-10 0-4-3-10 0-4 3-4 6 2 2-2 0-4-1-2-13-3-6 1-18 8-10-3-12 1-8 16-1 6 5 8 2 1 14 1 5 2 2 2-4 4 1 6-1 2-9 8-4 12-3 4 5 5 2 0 8-3 2 4 0 8-2 2-6-3-6-1-2-1-2 1 4 6 0 4-10 14-2 6-9 0-1-6-6-6 5-8-5-1-6-4-4 1-3 4 1 10 3 6-1 2-2 1-2 1-42 0 0-99 10-1 14 1 24-7 5-2 1-2 0-2-6-2-18 0-8-2-10-1-2-1 7-10 0-8 5-4 2-2 0-2-4-3-2 0-6 6-4 1-8 3zM784 919l-2 3 2 1 2-1zM870 875l-2 3-1 4 1 2 4 3 5-3 1-4-2-4-4-1zM892 787l-2 3-1 6 1 6 12 20 1 4 1 1 4-1 3-2 3-4-1-10-3-4-4-4-10-5-2-3 3-2 1-2-4-3zM920 778l0 2 4 6 2 0 1-2-1-1-4-4zM1018 789l-2 5 1 10-4 14 3 6 4 1 4-1 5-2 3-6 2-8 3-2 10-4 2-4-1-2-6-2-9 0-7-5zM1332 853l-4 3 0 2 6 2 6 5 6-1 1-2-5-8zM778 925l0 1 2 0zM1330 868l-1 2 3 3 2-5-2-1zM1092 846l2 4-2 4-2-2 0-3zM1108 868l0-1 1 1zM1184 880l2 2-2 2-2-2zM1356 894l2-1 6 2 4-1 4 4 0 58-8-6-2-6-6 1-6 0-3 1-2 2-7 0-7-4-3-7-7-3 9-8-1-6 1-2 4 3 12-1 3-2 5-6 1-2-4-6-1-4 0-2zM1131 902l5-2 4 6 2 0 8-6 2 2 1 8 3 2 4 0 1 2-4 6 0 4 11 10 4 1 2-1 3-4 1-4 2 0 2 1 4 9-2 2-6-1-3 1-2 2 0 2 2 10 7 8-3 8 0 2 4 2 0 4-120 0-3-16 4-2 6-6 0-2-3-4 0-2 6-8 0-10 3-1 8 1 6-7 8-2 6-5 8-4 4-5 2 1 2 4 2 1zM1134 941l-2 3 0 2 2 0 3-2 0-2zM1185 914l3-2 2 0 6 4-1 2-3 1-4 1-3-2-1-2zM1289 914l3-2 4 2 12 14 1 4-3 6-2 2-4-1-10-11-6-2-1-4 5-3zM1171 916l1 0 1 2 1 4-2 1-3-3 0-2zM1312 942l4-2 2 2 0 10-2 4-4 2-4 8-10 1-1-3 4-8 0-2-3-4 0-2zM1309 974l9-1 2 3-12 0z"/>
<path fill="#FFFF00" d="M728 778l163 0-5 16-1 8 5 8 3 8 5 5 0 3-1 6-8 6 1 10-4 6 2 2 2 4-2 4-2 2-2 0-1-2 1-6 2-4 0-2-4-2-12 3-10-1-10 2-18 7-22-1-3 2-5 10-4 2-6-1-4-3 0-2 5-4 2-6-1-3-6-3-4 0-6 5-4 0-14 2-6-1-2-2-1-2 3-8-1-6 5-6 1-2-1-2-10-5-4 1-6 4-10 3zM898 780l1-2 8 0-5 6-3 0-1-2zM937 780l3-2 432 0 0 87-10 1-2-2-1-4-3-4-6-2-4-6-4-2-10 1-10 6-4 4-8 3-10 1-3-1-4-4-3-1-12 0-8-1-3 2-5 5-2 0-2-2-10-1-6-3-8-1-14-7-14-3-3 2-3 6-2 1-6 1-4 2-1 2 0 2 2 4-1 2-2 0-3-4-3 0-4 2-4 6-8-1-4-1-4-5-4 1-3-2-1-2 0-3 8 2 3-1-1-2-6-4-2 0-2 3-6 0-3-3-1-6-4-2-4 2 1 2-2 2-5 0-5-2 0-2 4-4 1-2-1-12-3-4-5-4-1-5-2-1-2-1-12 3-6 5-6 2-4 10-1 5-1 2-4 2-6 1-4 0-6-7-4-3-4 4-6 1-4 3-1 3 0 12-1 4-4 1-6-1-2-2-2-8-6-10-1-10 1-2 10-5 8-15 10-4 8 3 4-1 3-2 0-4-1-2-7-4-9-1-10-3-12-7-4-1-15 4 4 6 3 10-1 8-2 2-1 0-2-2-1-4-3-4-14 6-9 0 0 2 1 0 14 4 4 7 10 0 4 5-4 8 1 8-3 14-2 1-10 2-8 5-4 0-4-2-2-6-8-6-6-2-6 2-2 0 0-4-1-2-3-2-8 3-5-1 2-8-3-4-8 1-6 7-12-2-5-2-1-2 1-2 7-3 11-13 4-8 2-14 4-6 1-7zM966 803l-3 5-3 2 0 1 2 1 9-4 0-4-3-1zM1060 781l0 5 1-2zM1254 836l0 4 2 1 1-3-1-2zM936 811l-1 1 3 1 2-1zM770 874l8-1 4 0 8 4 2 5-2 4-4 2-2 0-4-4-2 0-2 0-8 16 1 4 3 7 4 4-3 7-1 4 5 8 0 8-2 4-8 8-1 6-2 2-5 2 1 6-2 2-6 0-1 4-23 0 0-97 10-1 14 0zM989 876l5-2 1 2-2 2-3 1-2-1zM890 882l2-1 2 6 11 9 1 2-1 2-7 2-4 4-10 6-14-3-4 2-5 5-3 0-3-2 2-4 0-8 1-5 2-1 4 1 4 8 2 0 2-2 4-9 11-4zM945 888l1-2 3 6 5 3 14 1 6 3 6 0 7 3 5 1 10 6 8 8 1 7-1 7-4 7-4 3-6 1-7 10-3 1-6 0-9 5 0 2 3 6 1 10-140 0-2-6 2-4 0-4 7-3 6-8 8 2 3-1 6-10 1-6 4 1 6 0 18 5 4 0 8-2 11-8 1-4-5-8 1-5 10-8 4-9 6-3 6-2zM793 908l3-1 1 3-3 1-2-1zM1109 912l3-1 3 1 5 6 1 4 4 4-6 6 0 6-3 6 3 4 11 5 14 2 6 2 2-1 0-2-2-6-2-1-4 5-3-2 0-2 3-5 8-5 2-5 4-1 4 4 0 6 4 4 0 6 1 2 8 6 1 2-1 2-5 1-6-2-6 1-6-4-2 0-8 7-6 9-52 0-2-4 1-6-3-4-1-4 1-4 2-4-2-4-1-6 1-2 8-7 6 0 1-1-2-4 1-2 6-3 5-7zM1372 912l0 31-2 0-2-3 0-6-2-2-6-2-3-4 3-10 2-3 6 0zM807 920l1-1 2 2 0 5-2 3-4 1-2-2zM790 930l4-2 2 2-3 6-3 3-2 0-1-3 1-4zM1337 930l1-2 1 2-1 4-2 0 0-2zM799 954l1-1 2 1 1 2-3 0zM1070 966l2 0 2 3 3 7-10 0zM1002 968l2-1 1 1-1 2-2 1zM1153 972l9 0 2 4-13 0z"/>
<path fill="#FFAA00" d="M728 778l160 0-4 12-5 10 1 6 4 6 3 8-1 3-2 1-4-2-2 0 1 8-2 4 0 4 6 6-13 4-8 0-24 9-10 1-20 0-4 4-2 5-2 2-2-1 0-4 4-14-4-3 0-1 1-6-7-11-2-1-6 2 0-2-2-2-16 1-12-5-4-1-6 2-6 4-10 2zM952 780l0-2 48 0-5 2-1 2 4 6 0 4-6 4 0 4-4 2-4 1-16-4-10-1-1-2 1-4-1-2-5-2-1-2zM1003 778l12 0-3 1zM1044 780l1-2 11 0-1 6-3 6-4 1-4 0-8-3zM1065 778l276 0 1 2 2 1 4-1 1-2 12 0-4 4 0 2 5 4 1 2-1 4-2 2-1-2-5-2-1 2 0 2 3 4 4 2 1 6 3 3 4 1 4 0 0 46-4 1-4-1-14-14-3-6-5-2-4 1-14 7-6 2-8 6-4 2-4 0-8-3-12 0-4-4-8-1-4-3-8-13 2-4-3-4-3-1-10-1-2 1-1 1 1 3 2 2 6 1 1 2-3 6-2 2-6 0-2 2-4 8-4 0-6-5-10 0-8-3-8 2-2 0-5-6-3-6-2-1-2 1-1 2 4 2 1 2-10 8-2 0-2-1-2-5-2-1-6-1-1 2 1 12-4 0-4-2-4-10-10-1-7-5-1-2 1-6-1-1-2-1-4 2-2 0-6-5-4-7-4-2-16 4-11 6-3 4-3 12-2 2-3 0-3-2-5-10-2-1-6-1-2-2 6-9 4-4 2-6 2-1 6 5 4-1 1-2-1-4-2-2-6-4-6-2zM1039 810l5-2 4 1 4 5 1 4-1 2-8 5-9 11 0 6 2 10-1 2-4 2-2-2-1-6-6-8-1-6 1-4 9-7zM969 814l7-1 8 2 5 3 4 4 5 3 2 1 6-2 2 2 0 2-3 4 0 8-3 10-1 2-9 3-8 5-2-1-3-5-7-5-14-7-12-6-2-2-5-12 1-2 2 0 12 1zM929 818l4 0 2 2-2 2-7 2-1-2zM761 878l7-1 4 1-2 10-4 6-1 4 4 22 1 10 2 8 0 4-7 10-3 5-6 1-4 4-4 6 0 8-20 0 0-95 10-2 14 0zM881 896l7-1 3 1 2 4-1 4-8 4-4-1-2-7 0-2zM942 896l4-1 12 4 8 0 8 5 4-2 2 0 6 3 4 1 10 5 3 3 4 8-1 5-6 1 1 6-1 1-2 1-8-2-2 1-5 9-6 4-3 5-10 7 1 4-1 8 2 4-120 0-2-2-5-2-1-2 3-4 9-8 6 2 8-6 2-7 6-3 12-3 10 3 4 0 6-1 16-9 4 0 4 2 2-2-2-2-4-2-4-8 0-2 6-1 1-1 0-6 6-6 2-6zM1108 916l4-1 2 2 0 3-2 1-4 0-2-3zM1369 922l3-1 0 4-4 1-1-2zM1110 930l2 1 2 5-2 4-4 4 0 2 11 10-3 1-4-1-3 2 1 2 4 2 4 4 2 1 1-5-1-4 2-1 2 0 1 9 4 10-29 0-2-4-4-2 4-6-4-4 0-4 4-6 0-2-4-6 1-2 3-4 7 0 2-4z"/>
<path fill="#FF5500" d="M728 778l141 0 11 7 1 3-1 2-8 10 0 4 1 8-2 14-3 4-3 8-6 8-5 4-12 5-24 2-8-2-2-1 0-7-4-10-14-16-2-2-12 1-3-2-4-4-3-1-6 4-8 0-6 2-10 6-8 0zM971 778l16 0 1 6 0 2-8 9-4 1-4-2-2-6 2-1 1-3zM1069 778l266 0 0 6 2 2 5 2 1 2-1 2-2 2-8 1-11 9 7 18 2 1 2-1 3-4 3-1 6 1 6 3 6 1 2 2 0 2-1 4-3 1-18 2-14 7-8 0-4-3-2 1-1 10-3 1-2 0-4-4-6-2-8-4-8-2-1-1 5-4 0-4-1-2-3-3-4 0-4 2-4-3-8-5-16-2-2 1-1 4 3 10-1 4-5 2-8 1-6 3-4 0-12-4-6 1-2-3-6-16-2-1-2 1-1 4-7 2-6-2-6-1-4-4-12-1-8-4-8 3-10 1-5-6-7-3-16 4-6 3-4 0-1-4 3-8 0-2-1-2-15-8zM1152 799l-1 1 1 2 2 0zM1292 812l-2 2 5 4 1 2-1 2-5 4-2 4 0 2 4 2 4-2 4-5 8-3 5-4-3-6-5-2-7-1zM1042 812l2 0 1 2 0 4-7 9-4 1-1-2 1-2 6-11zM1065 816l3-2 6 3 4 0 1 1-4 4 3 6-2 5-2 0-2-3-2-6-4-4zM968 818l8-2 6 2 2 2-2 5-6 6-1 3 1 2 6 1 3 3 1 6-3 4-5 0-8-6-10-4-5-4-4-6-1-2 14-7zM1363 820l3-2 6 1 0 25-2 0-1-2 3-4-3-4-2-8-4-2-1-2zM992 832l4-2 1 2 1 4-2 2-6 0-3-2 1-2zM993 846l3-2 1 2-1 2-2 0zM733 882l9-2 22 1 2 1-4 12 0 12-2 12 0 4 4 6 1 12-4 4-3 8-8 4-4 4-1 8 1 8-18 0 0-6 4-2 1-4-1-3-4-1 0-77zM947 900l4 0 4 2-1 4 6 2 2 4-2 5-4 0-3-3-7-12zM970 910l6 1 10 4 4-2 4-1 4 2 1 2-11 11-8 14-6 3-1 6-2 2-5 2-22 4-1 6 6 8 0 4-71 0-2-3-6-1-8-4 1-4 4-6 5-4 10 0 6-5 8-1 24-8 4-1 4 2 2 0 5-7-1-7 8-6 4 1 10 9 10 3 4-1 2-1 1-6 6-4 1-2-2-2-8-2-2-4zM1105 974l3 0 2 2-6 0z"/>
<path fill="#FF0000" d="M728 778l27 0 1 3 2 0 2-3 90 0-1 4 1 3 11 9 0 2-4 8 0 4 3 3 5 3 2 2-5 12-1 8-3 8-4 4-14 6-10 0-10 1-8-1-1-2 0-4-2-12-3-5-7-5-4-12-1-1-6 1-6-4-6 3-6-7 0-6-4-3-3 1 0 2 3 4-1 2-9 5-6 1-8 3-4 7-4 1-6-1 0-32 4-2 1-2-1-4-4-2zM752 793l-1 5 1 1 4-1 1-2-1-3-2 0zM804 797l0 3 3 0 1-2-2-1zM826 785l-2 1 0 2 4 6 2-2zM832 806l-4 2-2 4 1 4 1 1 2 1 3-2 2-8-1-2zM848 799l-1 3 1 1 3-1 1-2-2-1zM1110 778l7 0-3 1zM1122 778l11 0 0 4-1 1zM1145 778l115 0 2 6-3 8 1 4 10 4 8 0 2 2-6 8-6-2-6 4-8-1-6 1-6-2-6 1-6 4-6-3-2 1-1 5 1 2 10 4 2 2 2 4-4 3-12 4-4 0-5-1-5-3-6-1-3-14-2-4-3-2-10-4-8 1-7-1-3-7-8-5-1-2 1-8-2-6-4 2-4 0-1-2zM1263 778l15 0 1 4-7 5-2 0-5-3zM1293 778l38 0 0 8-1 2-6 5-8 0-6 2-10 1-6-6zM980 782l0-1 2 3-2 3-1-3zM1094 782l4 0 2 2-2 3-6 2-4-1 2-4zM1102 794l2-1 2 1 6 7 8-4 3 5 3 0 4-2 3-4 3-1 3 1 2 2 0 2-15 7-14-4-12 4-3-1 3-10zM863 804l1-2 2 2 0 2-2 1zM1156 808l4-2 3 2-3 3-4 0-3-1zM961 828l3-1 3 1 1 2-2 2-2 0-3-2zM734 884l8-2 12 2 2 4 2 8-1 10-4 6 0 2 3 6 1 20-4 8-3 2-8 2-8 3-6-2 0-68zM947 936l3-1 6 4 6-1 6 0 2 2 0 2-1 6-3 1-16 0-5-5 0-6zM936 940l2 1 1 1-1 2-2 1-1-3zM912 948l8-1 4 2 9 9 5 3 4 11 0 4-40 0-2-4-8-2-8-6 4-8 2-2 8-3zM880 964l3 0 0 2-3 1-1-1zM739 972l1-1 2 2 1 3-4 0z"/>
<path fill="#AA0000" d="M739 778l6 0-1 2-4 2-1-2zM765 778l12 0 7 11 13 7 1 4-3 6-3 2-4-1-8-7-17-10-1-4zM804 778l1 0-1 2zM1165 778l15 0-1 4-5 3zM1192 778l3 0-1 2-2-1zM1208 778l37 0 0 4-3 2-2 4 1 4 4 6-1 2-2 1-6-5-4-1-4-3-8 0-4-1-8-9zM1216 779l0 3 3 0 1-2-2-2zM1230 789l-1 1 1 1zM1247 782l5-2 2 2 0 2-4 1zM1176 790l2-1 3 1-1 1zM1200 792l2-2 2 1 2 3-1 2-3 1-2-3zM728 798l0-1 2 1 2 2-1 4-3 4zM835 798l2 0-1 2zM738 802l8 4-4 1-4-1-1-2zM1210 806l2-1 4 5 1 4-1 2-4 0-2-2zM805 808l3-1 2 1 4 6 0 6 2 1 8 0 8 1 4 6 6 3 2 0 1-1 1-5 2-1 2 1 2 1 0 2-4 4-3 6 1 2 8 1 0 5-14 6-12-1-8 2-5-1 0-6-7-20 3-6-1-3-6-1-3-2 1-4zM1206 826l2-2 8 1 7 7-3 2-6 0-3-2zM732 890l4 0 3 4 0 10 6 6 3 8 2 3 0 2-2 1-2-2-4-1-8 1-6 5 0-37zM739 930l1-1 2 0 0 3-2 0zM908 956l12-1 4 2 6 5 1 8 5 6-21 0-1-8-4-5 0-5z"/>
</g>
</g>
<rect x="366.1" y="482.6" width="36" height="4.2" fill="url(#bs)" mask="url(#fadeL)"/>
<rect x="668.2" y="484.6" width="16" height="2.2" fill="url(#bs)" mask="url(#fadeR)"/>
<text x="525.15" y="388.10" font-size="8.00" text-anchor="middle" font-weight="bold">Vx DLR [m/s], ppp = 0.16</text>
<text x="397.91" y="495.90" font-size="7.30" text-anchor="middle" stroke="#000" stroke-width="0.07">-0.04</text>
<text x="429.72" y="495.90" font-size="7.30" text-anchor="middle" stroke="#000" stroke-width="0.07">-0.03</text>
<text x="461.53" y="495.90" font-size="7.30" text-anchor="middle" stroke="#000" stroke-width="0.07">-0.02</text>
<text x="493.34" y="495.90" font-size="7.30" text-anchor="middle" stroke="#000" stroke-width="0.07">-0.01</text>
<text x="525.15" y="495.90" font-size="7.30" text-anchor="middle" stroke="#000" stroke-width="0.07">0</text>
<text x="556.96" y="495.90" font-size="7.30" text-anchor="middle" stroke="#000" stroke-width="0.07">0.01</text>
<text x="588.77" y="495.90" font-size="7.30" text-anchor="middle" stroke="#000" stroke-width="0.07">0.02</text>
<text x="620.58" y="495.90" font-size="7.30" text-anchor="middle" stroke="#000" stroke-width="0.07">0.03</text>
<text x="652.39" y="495.90" font-size="7.30" text-anchor="middle" stroke="#000" stroke-width="0.07">0.04</text>
<text x="525.15" y="504.60" font-size="7.70" text-anchor="middle" stroke="#000" stroke-width="0.07">X [m]</text>
<rect x="149.50" y="513.5" width="33.00" height="12" fill="#0000AA"/>
<rect x="182.20" y="513.5" width="33.00" height="12" fill="#0000FF"/>
<rect x="214.90" y="513.5" width="33.00" height="12" fill="#0055FF"/>
<rect x="247.60" y="513.5" width="33.00" height="12" fill="#00AAFF"/>
<rect x="280.30" y="513.5" width="33.00" height="12" fill="#00FFFF"/>
<rect x="313.00" y="513.5" width="33.00" height="12" fill="#55FFAA"/>
<rect x="345.70" y="513.5" width="33.00" height="12" fill="#AAFF55"/>
<rect x="378.40" y="513.5" width="33.00" height="12" fill="#FFFF00"/>
<rect x="411.10" y="513.5" width="33.00" height="12" fill="#FFAA00"/>
<rect x="443.80" y="513.5" width="33.00" height="12" fill="#FF5500"/>
<rect x="476.50" y="513.5" width="33.00" height="12" fill="#FF0000"/>
<rect x="509.20" y="513.5" width="33.00" height="12" fill="#AA0000"/>
<text x="182.20" y="539.00" font-size="10.50" text-anchor="middle" stroke="#000" stroke-width="0.07">0</text>
<text x="247.60" y="539.00" font-size="10.50" text-anchor="middle" stroke="#000" stroke-width="0.07">2</text>
<text x="313.00" y="539.00" font-size="10.50" text-anchor="middle" stroke="#000" stroke-width="0.07">4</text>
<text x="378.40" y="539.00" font-size="10.50" text-anchor="middle" stroke="#000" stroke-width="0.07">6</text>
<text x="443.80" y="539.00" font-size="10.50" text-anchor="middle" stroke="#000" stroke-width="0.07">8</text>
<text x="509.20" y="539.00" font-size="10.50" text-anchor="middle" stroke="#000" stroke-width="0.07">10</text>
</svg>
</body></html>
